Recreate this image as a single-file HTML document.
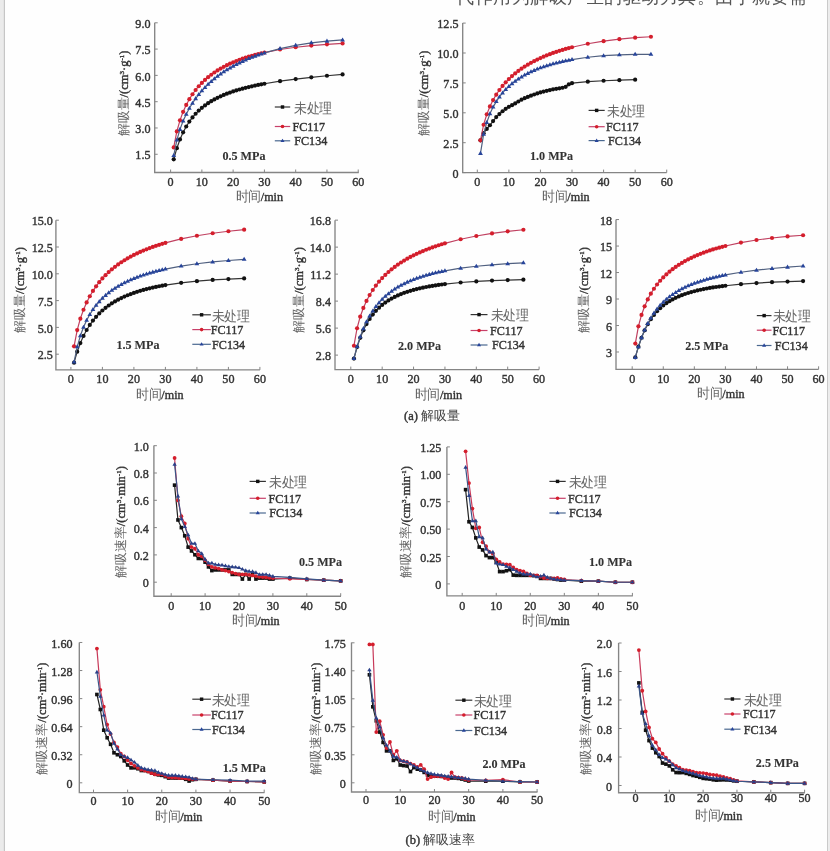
<!DOCTYPE html><html><head><meta charset="utf-8"><style>html,body{margin:0;padding:0;background:#fff;width:830px;height:851px;overflow:hidden}</style></head><body><svg width="830" height="851" viewBox="0 0 830 851" style="display:block;filter:blur(0.45px)">
<rect width="830" height="851" fill="#fefefe"/>
<rect x="0" y="0" width="3.7" height="851" fill="#ebebeb"/>
<rect x="3.7" y="0" width="1.3" height="851" fill="#c6c6c6"/>
<rect x="827.2" y="0" width="1" height="851" fill="#bdbdbd"/>
<rect x="828.2" y="0" width="1.8" height="851" fill="#ececec"/>
<style>text{stroke:#333333;stroke-width:0.4px} .c{fill:#666;stroke:none;font-size:13px}</style><g font-family='"Liberation Serif", serif' font-size="12.5" fill="#333333">
<text x="456" y="2.5" font-size="18" letter-spacing="0.5" fill="#555" style="stroke:none">代作用为解吸产生的驱动力其。由于就要需</text>
<path d="M154.7,22.8V172.5H358.8" fill="none" stroke="#858585" stroke-width="1.35"/>
<path d="M154.7,154.28h3" stroke="#858585" stroke-width="1"/>
<text transform="translate(150.50,154.28) scale(0.97,1.05)" y="4.9" text-anchor="end">1.5</text>
<path d="M154.7,127.98h3" stroke="#858585" stroke-width="1"/>
<text transform="translate(150.50,127.98) scale(0.97,1.05)" y="4.9" text-anchor="end">3.0</text>
<path d="M154.7,101.69h3" stroke="#858585" stroke-width="1"/>
<text transform="translate(150.50,101.69) scale(0.97,1.05)" y="4.9" text-anchor="end">4.5</text>
<path d="M154.7,75.39h3" stroke="#858585" stroke-width="1"/>
<text transform="translate(150.50,75.39) scale(0.97,1.05)" y="4.9" text-anchor="end">6.0</text>
<path d="M154.7,49.09h3" stroke="#858585" stroke-width="1"/>
<text transform="translate(150.50,49.09) scale(0.97,1.05)" y="4.9" text-anchor="end">7.5</text>
<path d="M154.7,22.80h3" stroke="#858585" stroke-width="1"/>
<text transform="translate(150.50,22.80) scale(0.97,1.05)" y="4.9" text-anchor="end">9.0</text>
<path d="M170.60,172.5v-3" stroke="#858585" stroke-width="1"/>
<text transform="translate(170.60,181.60) scale(0.97,1.05)" y="4.1" text-anchor="middle">0</text>
<path d="M201.87,172.5v-3" stroke="#858585" stroke-width="1"/>
<text transform="translate(201.87,181.60) scale(0.97,1.05)" y="4.1" text-anchor="middle">10</text>
<path d="M233.14,172.5v-3" stroke="#858585" stroke-width="1"/>
<text transform="translate(233.14,181.60) scale(0.97,1.05)" y="4.1" text-anchor="middle">20</text>
<path d="M264.41,172.5v-3" stroke="#858585" stroke-width="1"/>
<text transform="translate(264.41,181.60) scale(0.97,1.05)" y="4.1" text-anchor="middle">30</text>
<path d="M295.68,172.5v-3" stroke="#858585" stroke-width="1"/>
<text transform="translate(295.68,181.60) scale(0.97,1.05)" y="4.1" text-anchor="middle">40</text>
<path d="M326.95,172.5v-3" stroke="#858585" stroke-width="1"/>
<text transform="translate(326.95,181.60) scale(0.97,1.05)" y="4.1" text-anchor="middle">50</text>
<path d="M358.22,172.5v-3" stroke="#858585" stroke-width="1"/>
<text transform="translate(358.22,181.60) scale(0.97,1.05)" y="4.1" text-anchor="middle">60</text>
<text transform="translate(123.0,93.5) rotate(-90)" text-anchor="middle" y="4.5"><tspan class="c">解吸量</tspan>/(cm<tspan font-size="7" dy="-4">3</tspan><tspan dy="4">·g</tspan><tspan font-size="7" dy="-4">-1</tspan><tspan dy="4">)</tspan></text>
<text transform="translate(259.40,196.60) scale(0.97,1.05)" y="4.3" text-anchor="middle"><tspan class="c">时间</tspan>/min</text>
<text transform="translate(222.40,155.60) scale(0.97,1.05)" y="4.1" text-anchor="start" font-weight="bold" style="stroke-width:0.1px">0.5 MPa</text>
<path d="M173.73,159.29L176.85,148.21L179.98,139.45L183.11,132.36L186.23,126.50L189.36,121.58L192.49,117.39L195.62,113.77L198.74,110.62L201.87,107.85L205.00,105.40L208.12,103.20L211.25,101.22L214.38,99.44L217.50,97.81L220.63,96.33L223.76,94.97L226.89,93.71L230.01,92.55L233.14,91.47L236.27,90.46L239.39,89.52L242.52,88.65L245.65,87.82L248.77,87.04L251.90,86.31L255.03,85.62L258.16,84.96L261.28,84.33L264.41,83.74L280.04,81.15L295.68,79.04L311.31,77.28L326.95,75.76L342.58,74.43" fill="none" stroke="#333" stroke-width="1.2" stroke-linejoin="round"/>
<circle cx="173.73" cy="159.29" r="2.10" fill="#111111"/>
<circle cx="176.85" cy="148.21" r="2.10" fill="#111111"/>
<circle cx="179.98" cy="139.45" r="2.10" fill="#111111"/>
<circle cx="183.11" cy="132.36" r="2.10" fill="#111111"/>
<circle cx="186.23" cy="126.50" r="2.10" fill="#111111"/>
<circle cx="189.36" cy="121.58" r="2.10" fill="#111111"/>
<circle cx="192.49" cy="117.39" r="2.10" fill="#111111"/>
<circle cx="195.62" cy="113.77" r="2.10" fill="#111111"/>
<circle cx="198.74" cy="110.62" r="2.10" fill="#111111"/>
<circle cx="201.87" cy="107.85" r="2.10" fill="#111111"/>
<circle cx="205.00" cy="105.40" r="2.10" fill="#111111"/>
<circle cx="208.12" cy="103.20" r="2.10" fill="#111111"/>
<circle cx="211.25" cy="101.22" r="2.10" fill="#111111"/>
<circle cx="214.38" cy="99.44" r="2.10" fill="#111111"/>
<circle cx="217.50" cy="97.81" r="2.10" fill="#111111"/>
<circle cx="220.63" cy="96.33" r="2.10" fill="#111111"/>
<circle cx="223.76" cy="94.97" r="2.10" fill="#111111"/>
<circle cx="226.89" cy="93.71" r="2.10" fill="#111111"/>
<circle cx="230.01" cy="92.55" r="2.10" fill="#111111"/>
<circle cx="233.14" cy="91.47" r="2.10" fill="#111111"/>
<circle cx="236.27" cy="90.46" r="2.10" fill="#111111"/>
<circle cx="239.39" cy="89.52" r="2.10" fill="#111111"/>
<circle cx="242.52" cy="88.65" r="2.10" fill="#111111"/>
<circle cx="245.65" cy="87.82" r="2.10" fill="#111111"/>
<circle cx="248.77" cy="87.04" r="2.10" fill="#111111"/>
<circle cx="251.90" cy="86.31" r="2.10" fill="#111111"/>
<circle cx="255.03" cy="85.62" r="2.10" fill="#111111"/>
<circle cx="258.16" cy="84.96" r="2.10" fill="#111111"/>
<circle cx="261.28" cy="84.33" r="2.10" fill="#111111"/>
<circle cx="264.41" cy="83.74" r="2.10" fill="#111111"/>
<circle cx="280.04" cy="81.15" r="2.10" fill="#111111"/>
<circle cx="295.68" cy="79.04" r="2.10" fill="#111111"/>
<circle cx="311.31" cy="77.28" r="2.10" fill="#111111"/>
<circle cx="326.95" cy="75.76" r="2.10" fill="#111111"/>
<circle cx="342.58" cy="74.43" r="2.10" fill="#111111"/>
<path d="M173.73,147.41L176.85,131.42L179.98,120.34L183.11,111.83L186.23,104.94L189.36,99.19L192.49,94.27L195.62,89.99L198.74,86.23L201.87,82.89L205.00,79.90L208.12,77.19L211.25,74.74L214.38,72.50L217.50,70.45L220.63,68.56L223.76,66.82L226.89,65.21L230.01,63.72L233.14,62.33L236.27,61.04L239.39,59.83L242.52,58.70L245.65,57.65L248.77,56.66L251.90,55.73L255.03,54.86L258.16,54.04L261.28,53.27L264.41,52.55L280.04,49.50L295.68,47.23L311.31,45.55L326.95,44.32L342.58,43.45" fill="none" stroke="#c04060" stroke-width="1.2" stroke-linejoin="round"/>
<circle cx="173.73" cy="147.41" r="2.10" fill="#d41e2c"/>
<circle cx="176.85" cy="131.42" r="2.10" fill="#d41e2c"/>
<circle cx="179.98" cy="120.34" r="2.10" fill="#d41e2c"/>
<circle cx="183.11" cy="111.83" r="2.10" fill="#d41e2c"/>
<circle cx="186.23" cy="104.94" r="2.10" fill="#d41e2c"/>
<circle cx="189.36" cy="99.19" r="2.10" fill="#d41e2c"/>
<circle cx="192.49" cy="94.27" r="2.10" fill="#d41e2c"/>
<circle cx="195.62" cy="89.99" r="2.10" fill="#d41e2c"/>
<circle cx="198.74" cy="86.23" r="2.10" fill="#d41e2c"/>
<circle cx="201.87" cy="82.89" r="2.10" fill="#d41e2c"/>
<circle cx="205.00" cy="79.90" r="2.10" fill="#d41e2c"/>
<circle cx="208.12" cy="77.19" r="2.10" fill="#d41e2c"/>
<circle cx="211.25" cy="74.74" r="2.10" fill="#d41e2c"/>
<circle cx="214.38" cy="72.50" r="2.10" fill="#d41e2c"/>
<circle cx="217.50" cy="70.45" r="2.10" fill="#d41e2c"/>
<circle cx="220.63" cy="68.56" r="2.10" fill="#d41e2c"/>
<circle cx="223.76" cy="66.82" r="2.10" fill="#d41e2c"/>
<circle cx="226.89" cy="65.21" r="2.10" fill="#d41e2c"/>
<circle cx="230.01" cy="63.72" r="2.10" fill="#d41e2c"/>
<circle cx="233.14" cy="62.33" r="2.10" fill="#d41e2c"/>
<circle cx="236.27" cy="61.04" r="2.10" fill="#d41e2c"/>
<circle cx="239.39" cy="59.83" r="2.10" fill="#d41e2c"/>
<circle cx="242.52" cy="58.70" r="2.10" fill="#d41e2c"/>
<circle cx="245.65" cy="57.65" r="2.10" fill="#d41e2c"/>
<circle cx="248.77" cy="56.66" r="2.10" fill="#d41e2c"/>
<circle cx="251.90" cy="55.73" r="2.10" fill="#d41e2c"/>
<circle cx="255.03" cy="54.86" r="2.10" fill="#d41e2c"/>
<circle cx="258.16" cy="54.04" r="2.10" fill="#d41e2c"/>
<circle cx="261.28" cy="53.27" r="2.10" fill="#d41e2c"/>
<circle cx="264.41" cy="52.55" r="2.10" fill="#d41e2c"/>
<circle cx="280.04" cy="49.50" r="2.10" fill="#d41e2c"/>
<circle cx="295.68" cy="47.23" r="2.10" fill="#d41e2c"/>
<circle cx="311.31" cy="45.55" r="2.10" fill="#d41e2c"/>
<circle cx="326.95" cy="44.32" r="2.10" fill="#d41e2c"/>
<circle cx="342.58" cy="43.45" r="2.10" fill="#d41e2c"/>
<path d="M173.73,155.57L176.85,140.05L179.98,129.37L183.11,121.05L186.23,114.18L189.36,108.31L192.49,103.18L195.62,98.63L198.74,94.54L201.87,90.83L205.00,87.45L208.12,84.34L211.25,81.47L214.38,78.80L217.50,76.33L220.63,74.02L223.76,71.86L226.89,69.83L230.01,67.93L233.14,66.14L236.27,64.45L239.39,62.87L242.52,61.37L245.65,59.95L248.77,58.61L251.90,57.34L255.03,56.14L258.16,55.01L261.28,53.93L264.41,52.91L280.04,48.58L295.68,45.29L311.31,42.86L326.95,41.12L342.58,39.97" fill="none" stroke="#506080" stroke-width="1.2" stroke-linejoin="round"/>
<path d="M173.73,153.05L176.12,157.08L171.33,157.08Z" fill="#27449a"/>
<path d="M176.85,137.53L179.25,141.57L174.46,141.57Z" fill="#27449a"/>
<path d="M179.98,126.85L182.38,130.88L177.59,130.88Z" fill="#27449a"/>
<path d="M183.11,118.53L185.50,122.56L180.71,122.56Z" fill="#27449a"/>
<path d="M186.23,111.66L188.63,115.69L183.84,115.69Z" fill="#27449a"/>
<path d="M189.36,105.79L191.76,109.82L186.97,109.82Z" fill="#27449a"/>
<path d="M192.49,100.66L194.88,104.69L190.09,104.69Z" fill="#27449a"/>
<path d="M195.62,96.11L198.01,100.14L193.22,100.14Z" fill="#27449a"/>
<path d="M198.74,92.02L201.14,96.05L196.35,96.05Z" fill="#27449a"/>
<path d="M201.87,88.31L204.26,92.35L199.48,92.35Z" fill="#27449a"/>
<path d="M205.00,84.93L207.39,88.96L202.60,88.96Z" fill="#27449a"/>
<path d="M208.12,81.82L210.52,85.85L205.73,85.85Z" fill="#27449a"/>
<path d="M211.25,78.95L213.64,82.98L208.86,82.98Z" fill="#27449a"/>
<path d="M214.38,76.28L216.77,80.32L211.98,80.32Z" fill="#27449a"/>
<path d="M217.50,73.81L219.90,77.84L215.11,77.84Z" fill="#27449a"/>
<path d="M220.63,71.50L223.03,75.53L218.24,75.53Z" fill="#27449a"/>
<path d="M223.76,69.34L226.15,73.37L221.36,73.37Z" fill="#27449a"/>
<path d="M226.89,67.31L229.28,71.34L224.49,71.34Z" fill="#27449a"/>
<path d="M230.01,65.41L232.41,69.44L227.62,69.44Z" fill="#27449a"/>
<path d="M233.14,63.62L235.53,67.65L230.75,67.65Z" fill="#27449a"/>
<path d="M236.27,61.93L238.66,65.97L233.87,65.97Z" fill="#27449a"/>
<path d="M239.39,60.35L241.79,64.38L237.00,64.38Z" fill="#27449a"/>
<path d="M242.52,58.85L244.91,62.88L240.13,62.88Z" fill="#27449a"/>
<path d="M245.65,57.43L248.04,61.46L243.25,61.46Z" fill="#27449a"/>
<path d="M248.77,56.09L251.17,60.12L246.38,60.12Z" fill="#27449a"/>
<path d="M251.90,54.82L254.30,58.85L249.51,58.85Z" fill="#27449a"/>
<path d="M255.03,53.62L257.42,57.66L252.63,57.66Z" fill="#27449a"/>
<path d="M258.16,52.49L260.55,56.52L255.76,56.52Z" fill="#27449a"/>
<path d="M261.28,51.41L263.68,55.44L258.89,55.44Z" fill="#27449a"/>
<path d="M264.41,50.39L266.80,54.43L262.02,54.43Z" fill="#27449a"/>
<path d="M280.04,46.06L282.44,50.09L277.65,50.09Z" fill="#27449a"/>
<path d="M295.68,42.77L298.07,46.80L293.29,46.80Z" fill="#27449a"/>
<path d="M311.31,40.34L313.71,44.37L308.92,44.37Z" fill="#27449a"/>
<path d="M326.95,38.60L329.34,42.63L324.56,42.63Z" fill="#27449a"/>
<path d="M342.58,37.45L344.98,41.48L340.19,41.48Z" fill="#27449a"/>
<path d="M274.8,107.0H290.2" stroke="#333" stroke-width="1.2"/>
<rect x="280.79" y="105.29" width="3.42" height="3.42" fill="#111111"/>
<text transform="translate(294.30,107.00) scale(0.97,1.05)" y="5.6" text-anchor="start"><tspan class="c">未处理</tspan></text>
<path d="M274.8,126.5H290.2" stroke="#c8406a" stroke-width="1.2"/>
<circle cx="282.50" cy="126.50" r="1.80" fill="#d41e2c"/>
<text transform="translate(292.50,126.50) scale(0.97,1.05)" y="4.1" text-anchor="start">FC117</text>
<path d="M274.8,140.8H290.2" stroke="#4a6890" stroke-width="1.2"/>
<path d="M282.50,138.64L284.55,142.10L280.45,142.10Z" fill="#27449a"/>
<text transform="translate(294.30,140.80) scale(0.97,1.05)" y="4.1" text-anchor="start">FC134</text>
<path d="M462.7,22.9V172.6H666.7" fill="none" stroke="#858585" stroke-width="1.35"/>
<path d="M462.7,172.60h3" stroke="#858585" stroke-width="1"/>
<text transform="translate(458.50,172.60) scale(0.97,1.05)" y="4.9" text-anchor="end">0</text>
<path d="M462.7,142.70h3" stroke="#858585" stroke-width="1"/>
<text transform="translate(458.50,142.70) scale(0.97,1.05)" y="4.9" text-anchor="end">2.5</text>
<path d="M462.7,112.80h3" stroke="#858585" stroke-width="1"/>
<text transform="translate(458.50,112.80) scale(0.97,1.05)" y="4.9" text-anchor="end">5.0</text>
<path d="M462.7,82.90h3" stroke="#858585" stroke-width="1"/>
<text transform="translate(458.50,82.90) scale(0.97,1.05)" y="4.9" text-anchor="end">7.5</text>
<path d="M462.7,53.00h3" stroke="#858585" stroke-width="1"/>
<text transform="translate(458.50,53.00) scale(0.97,1.05)" y="4.9" text-anchor="end">10.0</text>
<path d="M462.7,23.10h3" stroke="#858585" stroke-width="1"/>
<text transform="translate(458.50,23.10) scale(0.97,1.05)" y="4.9" text-anchor="end">12.5</text>
<path d="M477.30,172.6v-3" stroke="#858585" stroke-width="1"/>
<text transform="translate(477.30,181.60) scale(0.97,1.05)" y="4.1" text-anchor="middle">0</text>
<path d="M508.87,172.6v-3" stroke="#858585" stroke-width="1"/>
<text transform="translate(508.87,181.60) scale(0.97,1.05)" y="4.1" text-anchor="middle">10</text>
<path d="M540.44,172.6v-3" stroke="#858585" stroke-width="1"/>
<text transform="translate(540.44,181.60) scale(0.97,1.05)" y="4.1" text-anchor="middle">20</text>
<path d="M572.01,172.6v-3" stroke="#858585" stroke-width="1"/>
<text transform="translate(572.01,181.60) scale(0.97,1.05)" y="4.1" text-anchor="middle">30</text>
<path d="M603.58,172.6v-3" stroke="#858585" stroke-width="1"/>
<text transform="translate(603.58,181.60) scale(0.97,1.05)" y="4.1" text-anchor="middle">40</text>
<path d="M635.15,172.6v-3" stroke="#858585" stroke-width="1"/>
<text transform="translate(635.15,181.60) scale(0.97,1.05)" y="4.1" text-anchor="middle">50</text>
<path d="M666.72,172.6v-3" stroke="#858585" stroke-width="1"/>
<text transform="translate(666.72,181.60) scale(0.97,1.05)" y="4.1" text-anchor="middle">60</text>
<text transform="translate(423.6,93.4) rotate(-90)" text-anchor="middle" y="4.5"><tspan class="c">解吸量</tspan>/(cm<tspan font-size="7" dy="-4">3</tspan><tspan dy="4">·g</tspan><tspan font-size="7" dy="-4">-1</tspan><tspan dy="4">)</tspan></text>
<text transform="translate(566.00,196.30) scale(0.97,1.05)" y="4.3" text-anchor="middle"><tspan class="c">时间</tspan>/min</text>
<text transform="translate(530.00,155.40) scale(0.97,1.05)" y="4.1" text-anchor="start" font-weight="bold" style="stroke-width:0.1px">1.0 MPa</text>
<path d="M480.46,140.31L483.61,133.13L486.77,128.95L489.93,125.24L493.09,121.05L496.24,117.11L499.40,114.12L502.56,111.25L505.71,108.85L508.87,106.82L512.03,105.13L515.18,103.47L518.34,101.51L521.50,99.64L524.65,98.18L527.81,96.89L530.97,95.67L534.13,94.52L537.28,93.44L540.44,92.47L543.60,91.60L546.75,90.80L549.91,90.06L553.07,89.36L556.23,88.79L559.38,88.33L562.54,87.75L565.70,86.85L568.85,84.34L572.01,83.14L587.80,81.70L603.58,80.75L619.37,80.15L635.15,79.67" fill="none" stroke="#333" stroke-width="1.2" stroke-linejoin="round"/>
<circle cx="480.46" cy="140.31" r="2.10" fill="#111111"/>
<circle cx="483.61" cy="133.13" r="2.10" fill="#111111"/>
<circle cx="486.77" cy="128.95" r="2.10" fill="#111111"/>
<circle cx="489.93" cy="125.24" r="2.10" fill="#111111"/>
<circle cx="493.09" cy="121.05" r="2.10" fill="#111111"/>
<circle cx="496.24" cy="117.11" r="2.10" fill="#111111"/>
<circle cx="499.40" cy="114.12" r="2.10" fill="#111111"/>
<circle cx="502.56" cy="111.25" r="2.10" fill="#111111"/>
<circle cx="505.71" cy="108.85" r="2.10" fill="#111111"/>
<circle cx="508.87" cy="106.82" r="2.10" fill="#111111"/>
<circle cx="512.03" cy="105.13" r="2.10" fill="#111111"/>
<circle cx="515.18" cy="103.47" r="2.10" fill="#111111"/>
<circle cx="518.34" cy="101.51" r="2.10" fill="#111111"/>
<circle cx="521.50" cy="99.64" r="2.10" fill="#111111"/>
<circle cx="524.65" cy="98.18" r="2.10" fill="#111111"/>
<circle cx="527.81" cy="96.89" r="2.10" fill="#111111"/>
<circle cx="530.97" cy="95.67" r="2.10" fill="#111111"/>
<circle cx="534.13" cy="94.52" r="2.10" fill="#111111"/>
<circle cx="537.28" cy="93.44" r="2.10" fill="#111111"/>
<circle cx="540.44" cy="92.47" r="2.10" fill="#111111"/>
<circle cx="543.60" cy="91.60" r="2.10" fill="#111111"/>
<circle cx="546.75" cy="90.80" r="2.10" fill="#111111"/>
<circle cx="549.91" cy="90.06" r="2.10" fill="#111111"/>
<circle cx="553.07" cy="89.36" r="2.10" fill="#111111"/>
<circle cx="556.23" cy="88.79" r="2.10" fill="#111111"/>
<circle cx="559.38" cy="88.33" r="2.10" fill="#111111"/>
<circle cx="562.54" cy="87.75" r="2.10" fill="#111111"/>
<circle cx="565.70" cy="86.85" r="2.10" fill="#111111"/>
<circle cx="568.85" cy="84.34" r="2.10" fill="#111111"/>
<circle cx="572.01" cy="83.14" r="2.10" fill="#111111"/>
<circle cx="587.80" cy="81.70" r="2.10" fill="#111111"/>
<circle cx="603.58" cy="80.75" r="2.10" fill="#111111"/>
<circle cx="619.37" cy="80.15" r="2.10" fill="#111111"/>
<circle cx="635.15" cy="79.67" r="2.10" fill="#111111"/>
<path d="M480.46,140.35L483.61,124.75L486.77,114.36L489.93,106.45L493.09,100.05L496.24,94.66L499.40,90.01L502.56,85.94L505.71,82.32L508.87,79.06L512.03,76.11L515.18,73.42L518.34,70.96L521.50,68.68L524.65,66.58L527.81,64.63L530.97,62.82L534.13,61.13L537.28,59.55L540.44,58.06L543.60,56.67L546.75,55.36L549.91,54.13L553.07,52.97L556.23,51.88L559.38,50.85L562.54,49.88L565.70,48.96L568.85,48.09L572.01,47.26L587.80,43.77L603.58,41.13L619.37,39.15L635.15,37.72L650.93,36.73" fill="none" stroke="#c04060" stroke-width="1.2" stroke-linejoin="round"/>
<circle cx="480.46" cy="140.35" r="2.10" fill="#d41e2c"/>
<circle cx="483.61" cy="124.75" r="2.10" fill="#d41e2c"/>
<circle cx="486.77" cy="114.36" r="2.10" fill="#d41e2c"/>
<circle cx="489.93" cy="106.45" r="2.10" fill="#d41e2c"/>
<circle cx="493.09" cy="100.05" r="2.10" fill="#d41e2c"/>
<circle cx="496.24" cy="94.66" r="2.10" fill="#d41e2c"/>
<circle cx="499.40" cy="90.01" r="2.10" fill="#d41e2c"/>
<circle cx="502.56" cy="85.94" r="2.10" fill="#d41e2c"/>
<circle cx="505.71" cy="82.32" r="2.10" fill="#d41e2c"/>
<circle cx="508.87" cy="79.06" r="2.10" fill="#d41e2c"/>
<circle cx="512.03" cy="76.11" r="2.10" fill="#d41e2c"/>
<circle cx="515.18" cy="73.42" r="2.10" fill="#d41e2c"/>
<circle cx="518.34" cy="70.96" r="2.10" fill="#d41e2c"/>
<circle cx="521.50" cy="68.68" r="2.10" fill="#d41e2c"/>
<circle cx="524.65" cy="66.58" r="2.10" fill="#d41e2c"/>
<circle cx="527.81" cy="64.63" r="2.10" fill="#d41e2c"/>
<circle cx="530.97" cy="62.82" r="2.10" fill="#d41e2c"/>
<circle cx="534.13" cy="61.13" r="2.10" fill="#d41e2c"/>
<circle cx="537.28" cy="59.55" r="2.10" fill="#d41e2c"/>
<circle cx="540.44" cy="58.06" r="2.10" fill="#d41e2c"/>
<circle cx="543.60" cy="56.67" r="2.10" fill="#d41e2c"/>
<circle cx="546.75" cy="55.36" r="2.10" fill="#d41e2c"/>
<circle cx="549.91" cy="54.13" r="2.10" fill="#d41e2c"/>
<circle cx="553.07" cy="52.97" r="2.10" fill="#d41e2c"/>
<circle cx="556.23" cy="51.88" r="2.10" fill="#d41e2c"/>
<circle cx="559.38" cy="50.85" r="2.10" fill="#d41e2c"/>
<circle cx="562.54" cy="49.88" r="2.10" fill="#d41e2c"/>
<circle cx="565.70" cy="48.96" r="2.10" fill="#d41e2c"/>
<circle cx="568.85" cy="48.09" r="2.10" fill="#d41e2c"/>
<circle cx="572.01" cy="47.26" r="2.10" fill="#d41e2c"/>
<circle cx="587.80" cy="43.77" r="2.10" fill="#d41e2c"/>
<circle cx="603.58" cy="41.13" r="2.10" fill="#d41e2c"/>
<circle cx="619.37" cy="39.15" r="2.10" fill="#d41e2c"/>
<circle cx="635.15" cy="37.72" r="2.10" fill="#d41e2c"/>
<circle cx="650.93" cy="36.73" r="2.10" fill="#d41e2c"/>
<path d="M480.46,153.39L483.61,134.29L486.77,122.45L489.93,113.84L493.09,107.10L496.24,101.59L499.40,96.94L502.56,92.95L505.71,89.46L508.87,86.38L512.03,83.64L515.18,81.17L518.34,78.94L521.50,76.92L524.65,75.07L527.81,73.38L530.97,71.82L534.13,70.39L537.28,69.07L540.44,67.85L543.60,66.72L546.75,65.67L549.91,64.70L553.07,63.80L556.23,62.96L559.38,62.18L562.54,61.45L565.70,60.78L568.85,60.15L572.01,59.57L587.80,57.25L603.58,55.72L619.37,54.80L635.15,54.36L650.93,54.32" fill="none" stroke="#506080" stroke-width="1.2" stroke-linejoin="round"/>
<path d="M480.46,150.87L482.85,154.90L478.06,154.90Z" fill="#27449a"/>
<path d="M483.61,131.77L486.01,135.80L481.22,135.80Z" fill="#27449a"/>
<path d="M486.77,119.93L489.17,123.96L484.38,123.96Z" fill="#27449a"/>
<path d="M489.93,111.32L492.32,115.36L487.53,115.36Z" fill="#27449a"/>
<path d="M493.09,104.58L495.48,108.62L490.69,108.62Z" fill="#27449a"/>
<path d="M496.24,99.07L498.64,103.10L493.85,103.10Z" fill="#27449a"/>
<path d="M499.40,94.42L501.79,98.46L497.00,98.46Z" fill="#27449a"/>
<path d="M502.56,90.43L504.95,94.46L500.16,94.46Z" fill="#27449a"/>
<path d="M505.71,86.94L508.11,90.98L503.32,90.98Z" fill="#27449a"/>
<path d="M508.87,83.86L511.26,87.90L506.48,87.90Z" fill="#27449a"/>
<path d="M512.03,81.12L514.42,85.15L509.63,85.15Z" fill="#27449a"/>
<path d="M515.18,78.65L517.58,82.68L512.79,82.68Z" fill="#27449a"/>
<path d="M518.34,76.42L520.74,80.45L515.95,80.45Z" fill="#27449a"/>
<path d="M521.50,74.40L523.89,78.43L519.10,78.43Z" fill="#27449a"/>
<path d="M524.65,72.55L527.05,76.58L522.26,76.58Z" fill="#27449a"/>
<path d="M527.81,70.86L530.21,74.89L525.42,74.89Z" fill="#27449a"/>
<path d="M530.97,69.30L533.36,73.33L528.58,73.33Z" fill="#27449a"/>
<path d="M534.13,67.87L536.52,71.90L531.73,71.90Z" fill="#27449a"/>
<path d="M537.28,66.55L539.68,70.58L534.89,70.58Z" fill="#27449a"/>
<path d="M540.44,65.33L542.83,69.36L538.05,69.36Z" fill="#27449a"/>
<path d="M543.60,64.20L545.99,68.23L541.20,68.23Z" fill="#27449a"/>
<path d="M546.75,63.15L549.15,67.18L544.36,67.18Z" fill="#27449a"/>
<path d="M549.91,62.18L552.31,66.21L547.52,66.21Z" fill="#27449a"/>
<path d="M553.07,61.28L555.46,65.31L550.67,65.31Z" fill="#27449a"/>
<path d="M556.23,60.44L558.62,64.47L553.83,64.47Z" fill="#27449a"/>
<path d="M559.38,59.66L561.78,63.69L556.99,63.69Z" fill="#27449a"/>
<path d="M562.54,58.93L564.93,62.96L560.14,62.96Z" fill="#27449a"/>
<path d="M565.70,58.26L568.09,62.29L563.30,62.29Z" fill="#27449a"/>
<path d="M568.85,57.63L571.25,61.67L566.46,61.67Z" fill="#27449a"/>
<path d="M572.01,57.05L574.40,61.09L569.62,61.09Z" fill="#27449a"/>
<path d="M587.80,54.73L590.19,58.76L585.40,58.76Z" fill="#27449a"/>
<path d="M603.58,53.20L605.97,57.23L601.19,57.23Z" fill="#27449a"/>
<path d="M619.37,52.28L621.76,56.31L616.97,56.31Z" fill="#27449a"/>
<path d="M635.15,51.84L637.54,55.87L632.76,55.87Z" fill="#27449a"/>
<path d="M650.93,51.80L653.33,55.83L648.54,55.83Z" fill="#27449a"/>
<path d="M588.6,110.4H604.7" stroke="#333" stroke-width="1.2"/>
<rect x="594.94" y="108.69" width="3.42" height="3.42" fill="#111111"/>
<text transform="translate(607.30,110.40) scale(0.97,1.05)" y="5.6" text-anchor="start"><tspan class="c">未处理</tspan></text>
<path d="M588.6,126.7H604.7" stroke="#c8406a" stroke-width="1.2"/>
<circle cx="596.65" cy="126.70" r="1.80" fill="#d41e2c"/>
<text transform="translate(606.00,126.70) scale(0.97,1.05)" y="4.1" text-anchor="start">FC117</text>
<path d="M588.6,140.6H604.7" stroke="#4a6890" stroke-width="1.2"/>
<path d="M596.65,138.44L598.70,141.90L594.60,141.90Z" fill="#27449a"/>
<text transform="translate(608.00,140.60) scale(0.97,1.05)" y="4.1" text-anchor="start">FC134</text>
<path d="M55.9,220.3V369.9H259.9" fill="none" stroke="#858585" stroke-width="1.35"/>
<path d="M55.9,354.20h3" stroke="#858585" stroke-width="1"/>
<text transform="translate(52.90,354.20) scale(0.97,1.05)" y="4.9" text-anchor="end">2.5</text>
<path d="M55.9,327.40h3" stroke="#858585" stroke-width="1"/>
<text transform="translate(52.90,327.40) scale(0.97,1.05)" y="4.9" text-anchor="end">5.0</text>
<path d="M55.9,300.60h3" stroke="#858585" stroke-width="1"/>
<text transform="translate(52.90,300.60) scale(0.97,1.05)" y="4.9" text-anchor="end">7.5</text>
<path d="M55.9,273.80h3" stroke="#858585" stroke-width="1"/>
<text transform="translate(52.90,273.80) scale(0.97,1.05)" y="4.9" text-anchor="end">10.0</text>
<path d="M55.9,247.00h3" stroke="#858585" stroke-width="1"/>
<text transform="translate(52.90,247.00) scale(0.97,1.05)" y="4.9" text-anchor="end">12.5</text>
<path d="M55.9,220.20h3" stroke="#858585" stroke-width="1"/>
<text transform="translate(52.90,220.20) scale(0.97,1.05)" y="4.9" text-anchor="end">15.0</text>
<path d="M70.90,369.9v-3" stroke="#858585" stroke-width="1"/>
<text transform="translate(70.90,378.70) scale(0.97,1.05)" y="4.1" text-anchor="middle">0</text>
<path d="M102.40,369.9v-3" stroke="#858585" stroke-width="1"/>
<text transform="translate(102.40,378.70) scale(0.97,1.05)" y="4.1" text-anchor="middle">10</text>
<path d="M133.90,369.9v-3" stroke="#858585" stroke-width="1"/>
<text transform="translate(133.90,378.70) scale(0.97,1.05)" y="4.1" text-anchor="middle">20</text>
<path d="M165.40,369.9v-3" stroke="#858585" stroke-width="1"/>
<text transform="translate(165.40,378.70) scale(0.97,1.05)" y="4.1" text-anchor="middle">30</text>
<path d="M196.90,369.9v-3" stroke="#858585" stroke-width="1"/>
<text transform="translate(196.90,378.70) scale(0.97,1.05)" y="4.1" text-anchor="middle">40</text>
<path d="M228.40,369.9v-3" stroke="#858585" stroke-width="1"/>
<text transform="translate(228.40,378.70) scale(0.97,1.05)" y="4.1" text-anchor="middle">50</text>
<path d="M259.90,369.9v-3" stroke="#858585" stroke-width="1"/>
<text transform="translate(259.90,378.70) scale(0.97,1.05)" y="4.1" text-anchor="middle">60</text>
<text transform="translate(19.2,290.0) rotate(-90)" text-anchor="middle" y="4.5"><tspan class="c">解吸量</tspan>/(cm<tspan font-size="7" dy="-4">3</tspan><tspan dy="4">·g</tspan><tspan font-size="7" dy="-4">-1</tspan><tspan dy="4">)</tspan></text>
<text transform="translate(160.00,394.00) scale(0.97,1.05)" y="4.3" text-anchor="middle"><tspan class="c">时间</tspan>/min</text>
<text transform="translate(116.40,345.00) scale(0.97,1.05)" y="4.1" text-anchor="start" font-weight="bold" style="stroke-width:0.1px">1.5 MPa</text>
<path d="M74.05,362.64L77.20,351.70L80.35,343.04L83.50,335.94L86.65,330.01L89.80,324.95L92.95,320.60L96.10,316.80L99.25,313.46L102.40,310.50L105.55,307.86L108.70,305.50L111.85,303.36L115.00,301.43L118.15,299.68L121.30,298.08L124.45,296.61L127.60,295.27L130.75,294.03L133.90,292.89L137.05,291.83L140.20,290.85L143.35,289.95L146.50,289.11L149.65,288.32L152.80,287.59L155.95,286.91L159.10,286.27L162.25,285.68L165.40,285.12L181.15,282.82L196.90,281.15L212.65,279.93L228.40,279.05L244.15,278.44" fill="none" stroke="#333" stroke-width="1.2" stroke-linejoin="round"/>
<circle cx="74.05" cy="362.64" r="2.10" fill="#111111"/>
<circle cx="77.20" cy="351.70" r="2.10" fill="#111111"/>
<circle cx="80.35" cy="343.04" r="2.10" fill="#111111"/>
<circle cx="83.50" cy="335.94" r="2.10" fill="#111111"/>
<circle cx="86.65" cy="330.01" r="2.10" fill="#111111"/>
<circle cx="89.80" cy="324.95" r="2.10" fill="#111111"/>
<circle cx="92.95" cy="320.60" r="2.10" fill="#111111"/>
<circle cx="96.10" cy="316.80" r="2.10" fill="#111111"/>
<circle cx="99.25" cy="313.46" r="2.10" fill="#111111"/>
<circle cx="102.40" cy="310.50" r="2.10" fill="#111111"/>
<circle cx="105.55" cy="307.86" r="2.10" fill="#111111"/>
<circle cx="108.70" cy="305.50" r="2.10" fill="#111111"/>
<circle cx="111.85" cy="303.36" r="2.10" fill="#111111"/>
<circle cx="115.00" cy="301.43" r="2.10" fill="#111111"/>
<circle cx="118.15" cy="299.68" r="2.10" fill="#111111"/>
<circle cx="121.30" cy="298.08" r="2.10" fill="#111111"/>
<circle cx="124.45" cy="296.61" r="2.10" fill="#111111"/>
<circle cx="127.60" cy="295.27" r="2.10" fill="#111111"/>
<circle cx="130.75" cy="294.03" r="2.10" fill="#111111"/>
<circle cx="133.90" cy="292.89" r="2.10" fill="#111111"/>
<circle cx="137.05" cy="291.83" r="2.10" fill="#111111"/>
<circle cx="140.20" cy="290.85" r="2.10" fill="#111111"/>
<circle cx="143.35" cy="289.95" r="2.10" fill="#111111"/>
<circle cx="146.50" cy="289.11" r="2.10" fill="#111111"/>
<circle cx="149.65" cy="288.32" r="2.10" fill="#111111"/>
<circle cx="152.80" cy="287.59" r="2.10" fill="#111111"/>
<circle cx="155.95" cy="286.91" r="2.10" fill="#111111"/>
<circle cx="159.10" cy="286.27" r="2.10" fill="#111111"/>
<circle cx="162.25" cy="285.68" r="2.10" fill="#111111"/>
<circle cx="165.40" cy="285.12" r="2.10" fill="#111111"/>
<circle cx="181.15" cy="282.82" r="2.10" fill="#111111"/>
<circle cx="196.90" cy="281.15" r="2.10" fill="#111111"/>
<circle cx="212.65" cy="279.93" r="2.10" fill="#111111"/>
<circle cx="228.40" cy="279.05" r="2.10" fill="#111111"/>
<circle cx="244.15" cy="278.44" r="2.10" fill="#111111"/>
<path d="M74.05,346.35L77.20,330.12L80.35,318.66L83.50,309.74L86.65,302.44L89.80,296.27L92.95,290.96L96.10,286.30L99.25,282.17L102.40,278.47L105.55,275.13L108.70,272.10L111.85,269.33L115.00,266.78L118.15,264.43L121.30,262.26L124.45,260.24L127.60,258.36L130.75,256.60L133.90,254.96L137.05,253.41L140.20,251.96L143.35,250.60L146.50,249.31L149.65,248.10L152.80,246.95L155.95,245.86L159.10,244.83L162.25,243.85L165.40,242.92L181.15,238.92L196.90,235.76L212.65,233.25L228.40,231.24L244.15,229.64" fill="none" stroke="#c04060" stroke-width="1.2" stroke-linejoin="round"/>
<circle cx="74.05" cy="346.35" r="2.10" fill="#d41e2c"/>
<circle cx="77.20" cy="330.12" r="2.10" fill="#d41e2c"/>
<circle cx="80.35" cy="318.66" r="2.10" fill="#d41e2c"/>
<circle cx="83.50" cy="309.74" r="2.10" fill="#d41e2c"/>
<circle cx="86.65" cy="302.44" r="2.10" fill="#d41e2c"/>
<circle cx="89.80" cy="296.27" r="2.10" fill="#d41e2c"/>
<circle cx="92.95" cy="290.96" r="2.10" fill="#d41e2c"/>
<circle cx="96.10" cy="286.30" r="2.10" fill="#d41e2c"/>
<circle cx="99.25" cy="282.17" r="2.10" fill="#d41e2c"/>
<circle cx="102.40" cy="278.47" r="2.10" fill="#d41e2c"/>
<circle cx="105.55" cy="275.13" r="2.10" fill="#d41e2c"/>
<circle cx="108.70" cy="272.10" r="2.10" fill="#d41e2c"/>
<circle cx="111.85" cy="269.33" r="2.10" fill="#d41e2c"/>
<circle cx="115.00" cy="266.78" r="2.10" fill="#d41e2c"/>
<circle cx="118.15" cy="264.43" r="2.10" fill="#d41e2c"/>
<circle cx="121.30" cy="262.26" r="2.10" fill="#d41e2c"/>
<circle cx="124.45" cy="260.24" r="2.10" fill="#d41e2c"/>
<circle cx="127.60" cy="258.36" r="2.10" fill="#d41e2c"/>
<circle cx="130.75" cy="256.60" r="2.10" fill="#d41e2c"/>
<circle cx="133.90" cy="254.96" r="2.10" fill="#d41e2c"/>
<circle cx="137.05" cy="253.41" r="2.10" fill="#d41e2c"/>
<circle cx="140.20" cy="251.96" r="2.10" fill="#d41e2c"/>
<circle cx="143.35" cy="250.60" r="2.10" fill="#d41e2c"/>
<circle cx="146.50" cy="249.31" r="2.10" fill="#d41e2c"/>
<circle cx="149.65" cy="248.10" r="2.10" fill="#d41e2c"/>
<circle cx="152.80" cy="246.95" r="2.10" fill="#d41e2c"/>
<circle cx="155.95" cy="245.86" r="2.10" fill="#d41e2c"/>
<circle cx="159.10" cy="244.83" r="2.10" fill="#d41e2c"/>
<circle cx="162.25" cy="243.85" r="2.10" fill="#d41e2c"/>
<circle cx="165.40" cy="242.92" r="2.10" fill="#d41e2c"/>
<circle cx="181.15" cy="238.92" r="2.10" fill="#d41e2c"/>
<circle cx="196.90" cy="235.76" r="2.10" fill="#d41e2c"/>
<circle cx="212.65" cy="233.25" r="2.10" fill="#d41e2c"/>
<circle cx="228.40" cy="231.24" r="2.10" fill="#d41e2c"/>
<circle cx="244.15" cy="229.64" r="2.10" fill="#d41e2c"/>
<path d="M74.05,362.09L77.20,346.82L80.35,335.82L83.50,327.27L86.65,320.33L89.80,314.54L92.95,309.61L96.10,305.35L99.25,301.62L102.40,298.33L105.55,295.39L108.70,292.75L111.85,290.36L115.00,288.19L118.15,286.21L121.30,284.40L124.45,282.73L127.60,281.18L130.75,279.76L133.90,278.43L137.05,277.20L140.20,276.04L143.35,274.97L146.50,273.96L149.65,273.01L152.80,272.12L155.95,271.29L159.10,270.50L162.25,269.75L165.40,269.05L181.15,266.05L196.90,263.74L212.65,261.92L228.40,260.48L244.15,259.33" fill="none" stroke="#506080" stroke-width="1.2" stroke-linejoin="round"/>
<path d="M74.05,359.57L76.44,363.60L71.66,363.60Z" fill="#27449a"/>
<path d="M77.20,344.30L79.59,348.33L74.81,348.33Z" fill="#27449a"/>
<path d="M80.35,333.30L82.74,337.33L77.96,337.33Z" fill="#27449a"/>
<path d="M83.50,324.75L85.89,328.78L81.11,328.78Z" fill="#27449a"/>
<path d="M86.65,317.81L89.04,321.84L84.26,321.84Z" fill="#27449a"/>
<path d="M89.80,312.02L92.19,316.05L87.41,316.05Z" fill="#27449a"/>
<path d="M92.95,307.09L95.34,311.12L90.56,311.12Z" fill="#27449a"/>
<path d="M96.10,302.83L98.49,306.86L93.71,306.86Z" fill="#27449a"/>
<path d="M99.25,299.10L101.64,303.14L96.86,303.14Z" fill="#27449a"/>
<path d="M102.40,295.81L104.79,299.84L100.01,299.84Z" fill="#27449a"/>
<path d="M105.55,292.87L107.94,296.90L103.16,296.90Z" fill="#27449a"/>
<path d="M108.70,290.23L111.09,294.26L106.31,294.26Z" fill="#27449a"/>
<path d="M111.85,287.84L114.24,291.87L109.46,291.87Z" fill="#27449a"/>
<path d="M115.00,285.67L117.39,289.70L112.61,289.70Z" fill="#27449a"/>
<path d="M118.15,283.69L120.54,287.72L115.76,287.72Z" fill="#27449a"/>
<path d="M121.30,281.88L123.69,285.91L118.91,285.91Z" fill="#27449a"/>
<path d="M124.45,280.21L126.84,284.24L122.06,284.24Z" fill="#27449a"/>
<path d="M127.60,278.66L129.99,282.70L125.21,282.70Z" fill="#27449a"/>
<path d="M130.75,277.24L133.14,281.27L128.36,281.27Z" fill="#27449a"/>
<path d="M133.90,275.91L136.29,279.94L131.51,279.94Z" fill="#27449a"/>
<path d="M137.05,274.68L139.44,278.71L134.66,278.71Z" fill="#27449a"/>
<path d="M140.20,273.52L142.59,277.56L137.81,277.56Z" fill="#27449a"/>
<path d="M143.35,272.45L145.74,276.48L140.96,276.48Z" fill="#27449a"/>
<path d="M146.50,271.44L148.89,275.47L144.11,275.47Z" fill="#27449a"/>
<path d="M149.65,270.49L152.04,274.53L147.26,274.53Z" fill="#27449a"/>
<path d="M152.80,269.60L155.19,273.64L150.41,273.64Z" fill="#27449a"/>
<path d="M155.95,268.77L158.34,272.80L153.56,272.80Z" fill="#27449a"/>
<path d="M159.10,267.98L161.49,272.01L156.71,272.01Z" fill="#27449a"/>
<path d="M162.25,267.23L164.64,271.27L159.86,271.27Z" fill="#27449a"/>
<path d="M165.40,266.53L167.79,270.56L163.01,270.56Z" fill="#27449a"/>
<path d="M181.15,263.53L183.54,267.57L178.76,267.57Z" fill="#27449a"/>
<path d="M196.90,261.22L199.29,265.25L194.51,265.25Z" fill="#27449a"/>
<path d="M212.65,259.40L215.04,263.43L210.26,263.43Z" fill="#27449a"/>
<path d="M228.40,257.96L230.79,261.99L226.01,261.99Z" fill="#27449a"/>
<path d="M244.15,256.81L246.54,260.84L241.76,260.84Z" fill="#27449a"/>
<path d="M192.3,314.8H210.9" stroke="#333" stroke-width="1.2"/>
<rect x="199.89" y="313.09" width="3.42" height="3.42" fill="#111111"/>
<text transform="translate(211.90,314.80) scale(0.97,1.05)" y="5.6" text-anchor="start"><tspan class="c">未处理</tspan></text>
<path d="M192.3,329.6H210.9" stroke="#c8406a" stroke-width="1.2"/>
<circle cx="201.60" cy="329.60" r="1.80" fill="#d41e2c"/>
<text transform="translate(210.70,329.60) scale(0.97,1.05)" y="4.1" text-anchor="start">FC117</text>
<path d="M192.3,344.3H210.9" stroke="#4a6890" stroke-width="1.2"/>
<path d="M201.60,342.14L203.65,345.60L199.55,345.60Z" fill="#27449a"/>
<text transform="translate(212.10,344.30) scale(0.97,1.05)" y="4.1" text-anchor="start">FC134</text>
<path d="M335.0,220.2V369.6H539.1" fill="none" stroke="#858585" stroke-width="1.35"/>
<path d="M335.0,355.11h3" stroke="#858585" stroke-width="1"/>
<text transform="translate(331.00,355.11) scale(0.97,1.05)" y="4.9" text-anchor="end">2.8</text>
<path d="M335.0,328.12h3" stroke="#858585" stroke-width="1"/>
<text transform="translate(331.00,328.12) scale(0.97,1.05)" y="4.9" text-anchor="end">5.6</text>
<path d="M335.0,301.12h3" stroke="#858585" stroke-width="1"/>
<text transform="translate(331.00,301.12) scale(0.97,1.05)" y="4.9" text-anchor="end">8.4</text>
<path d="M335.0,274.13h3" stroke="#858585" stroke-width="1"/>
<text transform="translate(331.00,274.13) scale(0.97,1.05)" y="4.9" text-anchor="end">11.2</text>
<path d="M335.0,247.14h3" stroke="#858585" stroke-width="1"/>
<text transform="translate(331.00,247.14) scale(0.97,1.05)" y="4.9" text-anchor="end">14.0</text>
<path d="M335.0,220.15h3" stroke="#858585" stroke-width="1"/>
<text transform="translate(331.00,220.15) scale(0.97,1.05)" y="4.9" text-anchor="end">16.8</text>
<path d="M350.80,369.6v-3" stroke="#858585" stroke-width="1"/>
<text transform="translate(350.80,378.70) scale(0.97,1.05)" y="4.1" text-anchor="middle">0</text>
<path d="M382.18,369.6v-3" stroke="#858585" stroke-width="1"/>
<text transform="translate(382.18,378.70) scale(0.97,1.05)" y="4.1" text-anchor="middle">10</text>
<path d="M413.56,369.6v-3" stroke="#858585" stroke-width="1"/>
<text transform="translate(413.56,378.70) scale(0.97,1.05)" y="4.1" text-anchor="middle">20</text>
<path d="M444.94,369.6v-3" stroke="#858585" stroke-width="1"/>
<text transform="translate(444.94,378.70) scale(0.97,1.05)" y="4.1" text-anchor="middle">30</text>
<path d="M476.32,369.6v-3" stroke="#858585" stroke-width="1"/>
<text transform="translate(476.32,378.70) scale(0.97,1.05)" y="4.1" text-anchor="middle">40</text>
<path d="M507.70,369.6v-3" stroke="#858585" stroke-width="1"/>
<text transform="translate(507.70,378.70) scale(0.97,1.05)" y="4.1" text-anchor="middle">50</text>
<path d="M539.08,369.6v-3" stroke="#858585" stroke-width="1"/>
<text transform="translate(539.08,378.70) scale(0.97,1.05)" y="4.1" text-anchor="middle">60</text>
<text transform="translate(298.8,290.0) rotate(-90)" text-anchor="middle" y="4.5"><tspan class="c">解吸量</tspan>/(cm<tspan font-size="7" dy="-4">3</tspan><tspan dy="4">·g</tspan><tspan font-size="7" dy="-4">-1</tspan><tspan dy="4">)</tspan></text>
<text transform="translate(438.60,394.00) scale(0.97,1.05)" y="4.3" text-anchor="middle"><tspan class="c">时间</tspan>/min</text>
<text transform="translate(398.00,345.70) scale(0.97,1.05)" y="4.1" text-anchor="start" font-weight="bold" style="stroke-width:0.1px">2.0 MPa</text>
<path d="M353.94,358.58L357.08,347.12L360.21,337.83L363.35,330.28L366.49,324.08L369.63,318.92L372.77,314.57L375.90,310.87L379.04,307.70L382.18,304.94L385.32,302.54L388.46,300.43L391.59,298.56L394.73,296.89L397.87,295.41L401.01,294.08L404.15,292.87L407.28,291.79L410.42,290.80L413.56,289.90L416.70,289.08L419.84,288.33L422.97,287.64L426.11,287.01L429.25,286.42L432.39,285.89L435.53,285.39L438.66,284.93L441.80,284.50L444.94,284.11L460.63,282.52L476.32,281.40L492.01,280.62L507.70,280.08L523.39,279.72" fill="none" stroke="#333" stroke-width="1.2" stroke-linejoin="round"/>
<circle cx="353.94" cy="358.58" r="2.10" fill="#111111"/>
<circle cx="357.08" cy="347.12" r="2.10" fill="#111111"/>
<circle cx="360.21" cy="337.83" r="2.10" fill="#111111"/>
<circle cx="363.35" cy="330.28" r="2.10" fill="#111111"/>
<circle cx="366.49" cy="324.08" r="2.10" fill="#111111"/>
<circle cx="369.63" cy="318.92" r="2.10" fill="#111111"/>
<circle cx="372.77" cy="314.57" r="2.10" fill="#111111"/>
<circle cx="375.90" cy="310.87" r="2.10" fill="#111111"/>
<circle cx="379.04" cy="307.70" r="2.10" fill="#111111"/>
<circle cx="382.18" cy="304.94" r="2.10" fill="#111111"/>
<circle cx="385.32" cy="302.54" r="2.10" fill="#111111"/>
<circle cx="388.46" cy="300.43" r="2.10" fill="#111111"/>
<circle cx="391.59" cy="298.56" r="2.10" fill="#111111"/>
<circle cx="394.73" cy="296.89" r="2.10" fill="#111111"/>
<circle cx="397.87" cy="295.41" r="2.10" fill="#111111"/>
<circle cx="401.01" cy="294.08" r="2.10" fill="#111111"/>
<circle cx="404.15" cy="292.87" r="2.10" fill="#111111"/>
<circle cx="407.28" cy="291.79" r="2.10" fill="#111111"/>
<circle cx="410.42" cy="290.80" r="2.10" fill="#111111"/>
<circle cx="413.56" cy="289.90" r="2.10" fill="#111111"/>
<circle cx="416.70" cy="289.08" r="2.10" fill="#111111"/>
<circle cx="419.84" cy="288.33" r="2.10" fill="#111111"/>
<circle cx="422.97" cy="287.64" r="2.10" fill="#111111"/>
<circle cx="426.11" cy="287.01" r="2.10" fill="#111111"/>
<circle cx="429.25" cy="286.42" r="2.10" fill="#111111"/>
<circle cx="432.39" cy="285.89" r="2.10" fill="#111111"/>
<circle cx="435.53" cy="285.39" r="2.10" fill="#111111"/>
<circle cx="438.66" cy="284.93" r="2.10" fill="#111111"/>
<circle cx="441.80" cy="284.50" r="2.10" fill="#111111"/>
<circle cx="444.94" cy="284.11" r="2.10" fill="#111111"/>
<circle cx="460.63" cy="282.52" r="2.10" fill="#111111"/>
<circle cx="476.32" cy="281.40" r="2.10" fill="#111111"/>
<circle cx="492.01" cy="280.62" r="2.10" fill="#111111"/>
<circle cx="507.70" cy="280.08" r="2.10" fill="#111111"/>
<circle cx="523.39" cy="279.72" r="2.10" fill="#111111"/>
<path d="M353.94,345.73L357.08,328.25L360.21,316.70L363.35,307.97L366.49,300.93L369.63,295.04L372.77,289.98L375.90,285.55L379.04,281.62L382.18,278.10L385.32,274.91L388.46,272.00L391.59,269.33L394.73,266.88L397.87,264.61L401.01,262.50L404.15,260.53L407.28,258.69L410.42,256.97L413.56,255.35L416.70,253.82L419.84,252.39L422.97,251.03L426.11,249.75L429.25,248.53L432.39,247.38L435.53,246.29L438.66,245.25L441.80,244.26L444.94,243.32L460.63,239.24L476.32,236.01L492.01,233.43L507.70,231.37L523.39,229.74" fill="none" stroke="#c04060" stroke-width="1.2" stroke-linejoin="round"/>
<circle cx="353.94" cy="345.73" r="2.10" fill="#d41e2c"/>
<circle cx="357.08" cy="328.25" r="2.10" fill="#d41e2c"/>
<circle cx="360.21" cy="316.70" r="2.10" fill="#d41e2c"/>
<circle cx="363.35" cy="307.97" r="2.10" fill="#d41e2c"/>
<circle cx="366.49" cy="300.93" r="2.10" fill="#d41e2c"/>
<circle cx="369.63" cy="295.04" r="2.10" fill="#d41e2c"/>
<circle cx="372.77" cy="289.98" r="2.10" fill="#d41e2c"/>
<circle cx="375.90" cy="285.55" r="2.10" fill="#d41e2c"/>
<circle cx="379.04" cy="281.62" r="2.10" fill="#d41e2c"/>
<circle cx="382.18" cy="278.10" r="2.10" fill="#d41e2c"/>
<circle cx="385.32" cy="274.91" r="2.10" fill="#d41e2c"/>
<circle cx="388.46" cy="272.00" r="2.10" fill="#d41e2c"/>
<circle cx="391.59" cy="269.33" r="2.10" fill="#d41e2c"/>
<circle cx="394.73" cy="266.88" r="2.10" fill="#d41e2c"/>
<circle cx="397.87" cy="264.61" r="2.10" fill="#d41e2c"/>
<circle cx="401.01" cy="262.50" r="2.10" fill="#d41e2c"/>
<circle cx="404.15" cy="260.53" r="2.10" fill="#d41e2c"/>
<circle cx="407.28" cy="258.69" r="2.10" fill="#d41e2c"/>
<circle cx="410.42" cy="256.97" r="2.10" fill="#d41e2c"/>
<circle cx="413.56" cy="255.35" r="2.10" fill="#d41e2c"/>
<circle cx="416.70" cy="253.82" r="2.10" fill="#d41e2c"/>
<circle cx="419.84" cy="252.39" r="2.10" fill="#d41e2c"/>
<circle cx="422.97" cy="251.03" r="2.10" fill="#d41e2c"/>
<circle cx="426.11" cy="249.75" r="2.10" fill="#d41e2c"/>
<circle cx="429.25" cy="248.53" r="2.10" fill="#d41e2c"/>
<circle cx="432.39" cy="247.38" r="2.10" fill="#d41e2c"/>
<circle cx="435.53" cy="246.29" r="2.10" fill="#d41e2c"/>
<circle cx="438.66" cy="245.25" r="2.10" fill="#d41e2c"/>
<circle cx="441.80" cy="244.26" r="2.10" fill="#d41e2c"/>
<circle cx="444.94" cy="243.32" r="2.10" fill="#d41e2c"/>
<circle cx="460.63" cy="239.24" r="2.10" fill="#d41e2c"/>
<circle cx="476.32" cy="236.01" r="2.10" fill="#d41e2c"/>
<circle cx="492.01" cy="233.43" r="2.10" fill="#d41e2c"/>
<circle cx="507.70" cy="231.37" r="2.10" fill="#d41e2c"/>
<circle cx="523.39" cy="229.74" r="2.10" fill="#d41e2c"/>
<path d="M353.94,358.48L357.08,346.52L360.21,336.74L363.35,328.62L366.49,321.78L369.63,315.96L372.77,310.94L375.90,306.57L379.04,302.74L382.18,299.36L385.32,296.35L388.46,293.67L391.59,291.25L394.73,289.07L397.87,287.09L401.01,285.29L404.15,283.65L407.28,282.14L410.42,280.75L413.56,279.48L416.70,278.30L419.84,277.21L422.97,276.20L426.11,275.26L429.25,274.38L432.39,273.57L435.53,272.80L438.66,272.09L441.80,271.42L444.94,270.80L460.63,268.19L476.32,266.25L492.01,264.79L507.70,263.68L523.39,262.83" fill="none" stroke="#506080" stroke-width="1.2" stroke-linejoin="round"/>
<path d="M353.94,355.96L356.33,359.99L351.54,359.99Z" fill="#27449a"/>
<path d="M357.08,344.00L359.47,348.03L354.68,348.03Z" fill="#27449a"/>
<path d="M360.21,334.22L362.61,338.25L357.82,338.25Z" fill="#27449a"/>
<path d="M363.35,326.10L365.75,330.13L360.96,330.13Z" fill="#27449a"/>
<path d="M366.49,319.26L368.88,323.30L364.10,323.30Z" fill="#27449a"/>
<path d="M369.63,313.44L372.02,317.47L367.23,317.47Z" fill="#27449a"/>
<path d="M372.77,308.42L375.16,312.45L370.37,312.45Z" fill="#27449a"/>
<path d="M375.90,304.05L378.30,308.08L373.51,308.08Z" fill="#27449a"/>
<path d="M379.04,300.22L381.44,304.26L376.65,304.26Z" fill="#27449a"/>
<path d="M382.18,296.84L384.57,300.87L379.79,300.87Z" fill="#27449a"/>
<path d="M385.32,293.83L387.71,297.87L382.92,297.87Z" fill="#27449a"/>
<path d="M388.46,291.15L390.85,295.18L386.06,295.18Z" fill="#27449a"/>
<path d="M391.59,288.73L393.99,292.76L389.20,292.76Z" fill="#27449a"/>
<path d="M394.73,286.55L397.13,290.58L392.34,290.58Z" fill="#27449a"/>
<path d="M397.87,284.57L400.26,288.60L395.48,288.60Z" fill="#27449a"/>
<path d="M401.01,282.77L403.40,286.80L398.61,286.80Z" fill="#27449a"/>
<path d="M404.15,281.13L406.54,285.16L401.75,285.16Z" fill="#27449a"/>
<path d="M407.28,279.62L409.68,283.65L404.89,283.65Z" fill="#27449a"/>
<path d="M410.42,278.23L412.82,282.27L408.03,282.27Z" fill="#27449a"/>
<path d="M413.56,276.96L415.95,280.99L411.17,280.99Z" fill="#27449a"/>
<path d="M416.70,275.78L419.09,279.81L414.30,279.81Z" fill="#27449a"/>
<path d="M419.84,274.69L422.23,278.72L417.44,278.72Z" fill="#27449a"/>
<path d="M422.97,273.68L425.37,277.71L420.58,277.71Z" fill="#27449a"/>
<path d="M426.11,272.74L428.51,276.77L423.72,276.77Z" fill="#27449a"/>
<path d="M429.25,271.86L431.64,275.89L426.86,275.89Z" fill="#27449a"/>
<path d="M432.39,271.05L434.78,275.08L429.99,275.08Z" fill="#27449a"/>
<path d="M435.53,270.28L437.92,274.32L433.13,274.32Z" fill="#27449a"/>
<path d="M438.66,269.57L441.06,273.60L436.27,273.60Z" fill="#27449a"/>
<path d="M441.80,268.90L444.20,272.93L439.41,272.93Z" fill="#27449a"/>
<path d="M444.94,268.28L447.33,272.31L442.55,272.31Z" fill="#27449a"/>
<path d="M460.63,265.67L463.02,269.70L458.24,269.70Z" fill="#27449a"/>
<path d="M476.32,263.73L478.71,267.76L473.93,267.76Z" fill="#27449a"/>
<path d="M492.01,262.27L494.40,266.30L489.62,266.30Z" fill="#27449a"/>
<path d="M507.70,261.16L510.09,265.19L505.31,265.19Z" fill="#27449a"/>
<path d="M523.39,260.31L525.78,264.34L521.00,264.34Z" fill="#27449a"/>
<path d="M470.6,314.6H487.5" stroke="#333" stroke-width="1.2"/>
<rect x="477.34" y="312.89" width="3.42" height="3.42" fill="#111111"/>
<text transform="translate(490.90,314.60) scale(0.97,1.05)" y="5.6" text-anchor="start"><tspan class="c">未处理</tspan></text>
<path d="M470.6,330.5H487.5" stroke="#c8406a" stroke-width="1.2"/>
<circle cx="479.05" cy="330.50" r="1.80" fill="#d41e2c"/>
<text transform="translate(490.00,330.50) scale(0.97,1.05)" y="4.1" text-anchor="start">FC117</text>
<path d="M470.6,345.0H487.5" stroke="#4a6890" stroke-width="1.2"/>
<path d="M479.05,342.84L481.10,346.30L477.00,346.30Z" fill="#27449a"/>
<text transform="translate(491.90,345.00) scale(0.97,1.05)" y="4.1" text-anchor="start">FC134</text>
<path d="M616.0,219.6V369.3H818.6" fill="none" stroke="#858585" stroke-width="1.35"/>
<path d="M616.0,352.01h3" stroke="#858585" stroke-width="1"/>
<text transform="translate(612.00,352.01) scale(0.97,1.05)" y="4.9" text-anchor="end">3</text>
<path d="M616.0,325.52h3" stroke="#858585" stroke-width="1"/>
<text transform="translate(612.00,325.52) scale(0.97,1.05)" y="4.9" text-anchor="end">6</text>
<path d="M616.0,299.03h3" stroke="#858585" stroke-width="1"/>
<text transform="translate(612.00,299.03) scale(0.97,1.05)" y="4.9" text-anchor="end">9</text>
<path d="M616.0,272.54h3" stroke="#858585" stroke-width="1"/>
<text transform="translate(612.00,272.54) scale(0.97,1.05)" y="4.9" text-anchor="end">12</text>
<path d="M616.0,246.05h3" stroke="#858585" stroke-width="1"/>
<text transform="translate(612.00,246.05) scale(0.97,1.05)" y="4.9" text-anchor="end">15</text>
<path d="M616.0,219.56h3" stroke="#858585" stroke-width="1"/>
<text transform="translate(612.00,219.56) scale(0.97,1.05)" y="4.9" text-anchor="end">18</text>
<path d="M632.20,369.3v-3" stroke="#858585" stroke-width="1"/>
<text transform="translate(632.20,378.70) scale(0.97,1.05)" y="4.1" text-anchor="middle">0</text>
<path d="M663.27,369.3v-3" stroke="#858585" stroke-width="1"/>
<text transform="translate(663.27,378.70) scale(0.97,1.05)" y="4.1" text-anchor="middle">10</text>
<path d="M694.34,369.3v-3" stroke="#858585" stroke-width="1"/>
<text transform="translate(694.34,378.70) scale(0.97,1.05)" y="4.1" text-anchor="middle">20</text>
<path d="M725.41,369.3v-3" stroke="#858585" stroke-width="1"/>
<text transform="translate(725.41,378.70) scale(0.97,1.05)" y="4.1" text-anchor="middle">30</text>
<path d="M756.48,369.3v-3" stroke="#858585" stroke-width="1"/>
<text transform="translate(756.48,378.70) scale(0.97,1.05)" y="4.1" text-anchor="middle">40</text>
<path d="M787.55,369.3v-3" stroke="#858585" stroke-width="1"/>
<text transform="translate(787.55,378.70) scale(0.97,1.05)" y="4.1" text-anchor="middle">50</text>
<path d="M818.62,369.3v-3" stroke="#858585" stroke-width="1"/>
<text transform="translate(818.62,378.70) scale(0.97,1.05)" y="4.1" text-anchor="middle">60</text>
<text transform="translate(583.6,290.0) rotate(-90)" text-anchor="middle" y="4.5"><tspan class="c">解吸量</tspan>/(cm<tspan font-size="7" dy="-4">3</tspan><tspan dy="4">·g</tspan><tspan font-size="7" dy="-4">-1</tspan><tspan dy="4">)</tspan></text>
<text transform="translate(721.00,393.70) scale(0.97,1.05)" y="4.3" text-anchor="middle"><tspan class="c">时间</tspan>/min</text>
<text transform="translate(685.20,345.50) scale(0.97,1.05)" y="4.1" text-anchor="start" font-weight="bold" style="stroke-width:0.1px">2.5 MPa</text>
<path d="M635.31,357.37L638.41,346.72L641.52,337.74L644.63,330.34L647.74,324.23L650.84,319.14L653.95,314.88L657.06,311.27L660.16,308.18L663.27,305.52L666.38,303.20L669.48,301.18L672.59,299.40L675.70,297.82L678.81,296.41L681.91,295.16L685.02,294.02L688.13,293.00L691.23,292.07L694.34,291.23L697.45,290.46L700.55,289.76L703.66,289.11L706.77,288.51L709.88,287.96L712.98,287.46L716.09,286.99L719.20,286.55L722.30,286.14L725.41,285.76L740.95,284.21L756.48,283.07L772.02,282.22L787.55,281.57L803.09,281.07" fill="none" stroke="#333" stroke-width="1.2" stroke-linejoin="round"/>
<circle cx="635.31" cy="357.37" r="2.10" fill="#111111"/>
<circle cx="638.41" cy="346.72" r="2.10" fill="#111111"/>
<circle cx="641.52" cy="337.74" r="2.10" fill="#111111"/>
<circle cx="644.63" cy="330.34" r="2.10" fill="#111111"/>
<circle cx="647.74" cy="324.23" r="2.10" fill="#111111"/>
<circle cx="650.84" cy="319.14" r="2.10" fill="#111111"/>
<circle cx="653.95" cy="314.88" r="2.10" fill="#111111"/>
<circle cx="657.06" cy="311.27" r="2.10" fill="#111111"/>
<circle cx="660.16" cy="308.18" r="2.10" fill="#111111"/>
<circle cx="663.27" cy="305.52" r="2.10" fill="#111111"/>
<circle cx="666.38" cy="303.20" r="2.10" fill="#111111"/>
<circle cx="669.48" cy="301.18" r="2.10" fill="#111111"/>
<circle cx="672.59" cy="299.40" r="2.10" fill="#111111"/>
<circle cx="675.70" cy="297.82" r="2.10" fill="#111111"/>
<circle cx="678.81" cy="296.41" r="2.10" fill="#111111"/>
<circle cx="681.91" cy="295.16" r="2.10" fill="#111111"/>
<circle cx="685.02" cy="294.02" r="2.10" fill="#111111"/>
<circle cx="688.13" cy="293.00" r="2.10" fill="#111111"/>
<circle cx="691.23" cy="292.07" r="2.10" fill="#111111"/>
<circle cx="694.34" cy="291.23" r="2.10" fill="#111111"/>
<circle cx="697.45" cy="290.46" r="2.10" fill="#111111"/>
<circle cx="700.55" cy="289.76" r="2.10" fill="#111111"/>
<circle cx="703.66" cy="289.11" r="2.10" fill="#111111"/>
<circle cx="706.77" cy="288.51" r="2.10" fill="#111111"/>
<circle cx="709.88" cy="287.96" r="2.10" fill="#111111"/>
<circle cx="712.98" cy="287.46" r="2.10" fill="#111111"/>
<circle cx="716.09" cy="286.99" r="2.10" fill="#111111"/>
<circle cx="719.20" cy="286.55" r="2.10" fill="#111111"/>
<circle cx="722.30" cy="286.14" r="2.10" fill="#111111"/>
<circle cx="725.41" cy="285.76" r="2.10" fill="#111111"/>
<circle cx="740.95" cy="284.21" r="2.10" fill="#111111"/>
<circle cx="756.48" cy="283.07" r="2.10" fill="#111111"/>
<circle cx="772.02" cy="282.22" r="2.10" fill="#111111"/>
<circle cx="787.55" cy="281.57" r="2.10" fill="#111111"/>
<circle cx="803.09" cy="281.07" r="2.10" fill="#111111"/>
<path d="M635.31,343.62L638.41,326.37L641.52,314.93L644.63,306.31L647.74,299.40L650.84,293.66L653.95,288.75L657.06,284.49L660.16,280.74L663.27,277.39L666.38,274.39L669.48,271.66L672.59,269.18L675.70,266.91L678.81,264.82L681.91,262.89L685.02,261.10L688.13,259.44L691.23,257.89L694.34,256.45L697.45,255.09L700.55,253.82L703.66,252.63L706.77,251.51L709.88,250.45L712.98,249.46L716.09,248.52L719.20,247.63L722.30,246.79L725.41,245.99L740.95,242.60L756.48,239.99L772.02,237.98L787.55,236.44L803.09,235.27" fill="none" stroke="#c04060" stroke-width="1.2" stroke-linejoin="round"/>
<circle cx="635.31" cy="343.62" r="2.10" fill="#d41e2c"/>
<circle cx="638.41" cy="326.37" r="2.10" fill="#d41e2c"/>
<circle cx="641.52" cy="314.93" r="2.10" fill="#d41e2c"/>
<circle cx="644.63" cy="306.31" r="2.10" fill="#d41e2c"/>
<circle cx="647.74" cy="299.40" r="2.10" fill="#d41e2c"/>
<circle cx="650.84" cy="293.66" r="2.10" fill="#d41e2c"/>
<circle cx="653.95" cy="288.75" r="2.10" fill="#d41e2c"/>
<circle cx="657.06" cy="284.49" r="2.10" fill="#d41e2c"/>
<circle cx="660.16" cy="280.74" r="2.10" fill="#d41e2c"/>
<circle cx="663.27" cy="277.39" r="2.10" fill="#d41e2c"/>
<circle cx="666.38" cy="274.39" r="2.10" fill="#d41e2c"/>
<circle cx="669.48" cy="271.66" r="2.10" fill="#d41e2c"/>
<circle cx="672.59" cy="269.18" r="2.10" fill="#d41e2c"/>
<circle cx="675.70" cy="266.91" r="2.10" fill="#d41e2c"/>
<circle cx="678.81" cy="264.82" r="2.10" fill="#d41e2c"/>
<circle cx="681.91" cy="262.89" r="2.10" fill="#d41e2c"/>
<circle cx="685.02" cy="261.10" r="2.10" fill="#d41e2c"/>
<circle cx="688.13" cy="259.44" r="2.10" fill="#d41e2c"/>
<circle cx="691.23" cy="257.89" r="2.10" fill="#d41e2c"/>
<circle cx="694.34" cy="256.45" r="2.10" fill="#d41e2c"/>
<circle cx="697.45" cy="255.09" r="2.10" fill="#d41e2c"/>
<circle cx="700.55" cy="253.82" r="2.10" fill="#d41e2c"/>
<circle cx="703.66" cy="252.63" r="2.10" fill="#d41e2c"/>
<circle cx="706.77" cy="251.51" r="2.10" fill="#d41e2c"/>
<circle cx="709.88" cy="250.45" r="2.10" fill="#d41e2c"/>
<circle cx="712.98" cy="249.46" r="2.10" fill="#d41e2c"/>
<circle cx="716.09" cy="248.52" r="2.10" fill="#d41e2c"/>
<circle cx="719.20" cy="247.63" r="2.10" fill="#d41e2c"/>
<circle cx="722.30" cy="246.79" r="2.10" fill="#d41e2c"/>
<circle cx="725.41" cy="245.99" r="2.10" fill="#d41e2c"/>
<circle cx="740.95" cy="242.60" r="2.10" fill="#d41e2c"/>
<circle cx="756.48" cy="239.99" r="2.10" fill="#d41e2c"/>
<circle cx="772.02" cy="237.98" r="2.10" fill="#d41e2c"/>
<circle cx="787.55" cy="236.44" r="2.10" fill="#d41e2c"/>
<circle cx="803.09" cy="235.27" r="2.10" fill="#d41e2c"/>
<path d="M635.31,357.38L638.41,346.70L641.52,337.64L644.63,329.98L647.74,323.48L650.84,317.93L653.95,313.14L657.06,308.98L660.16,305.34L663.27,302.13L666.38,299.28L669.48,296.74L672.59,294.46L675.70,292.40L678.81,290.53L681.91,288.83L685.02,287.28L688.13,285.85L691.23,284.54L694.34,283.33L697.45,282.21L700.55,281.17L703.66,280.21L706.77,279.30L709.88,278.46L712.98,277.67L716.09,276.92L719.20,276.22L722.30,275.56L725.41,274.94L740.95,272.28L756.48,270.20L772.02,268.52L787.55,267.14L803.09,265.98" fill="none" stroke="#506080" stroke-width="1.2" stroke-linejoin="round"/>
<path d="M635.31,354.86L637.70,358.89L632.91,358.89Z" fill="#27449a"/>
<path d="M638.41,344.18L640.81,348.22L636.02,348.22Z" fill="#27449a"/>
<path d="M641.52,335.12L643.92,339.15L639.13,339.15Z" fill="#27449a"/>
<path d="M644.63,327.46L647.02,331.49L642.23,331.49Z" fill="#27449a"/>
<path d="M647.74,320.96L650.13,325.00L645.34,325.00Z" fill="#27449a"/>
<path d="M650.84,315.41L653.24,319.44L648.45,319.44Z" fill="#27449a"/>
<path d="M653.95,310.62L656.34,314.65L651.56,314.65Z" fill="#27449a"/>
<path d="M657.06,306.46L659.45,310.50L654.66,310.50Z" fill="#27449a"/>
<path d="M660.16,302.82L662.56,306.85L657.77,306.85Z" fill="#27449a"/>
<path d="M663.27,299.61L665.66,303.64L660.88,303.64Z" fill="#27449a"/>
<path d="M666.38,296.76L668.77,300.79L663.98,300.79Z" fill="#27449a"/>
<path d="M669.48,294.22L671.88,298.25L667.09,298.25Z" fill="#27449a"/>
<path d="M672.59,291.94L674.99,295.97L670.20,295.97Z" fill="#27449a"/>
<path d="M675.70,289.88L678.09,293.91L673.30,293.91Z" fill="#27449a"/>
<path d="M678.81,288.01L681.20,292.04L676.41,292.04Z" fill="#27449a"/>
<path d="M681.91,286.31L684.31,290.34L679.52,290.34Z" fill="#27449a"/>
<path d="M685.02,284.76L687.41,288.79L682.62,288.79Z" fill="#27449a"/>
<path d="M688.13,283.33L690.52,287.37L685.73,287.37Z" fill="#27449a"/>
<path d="M691.23,282.02L693.63,286.06L688.84,286.06Z" fill="#27449a"/>
<path d="M694.34,280.81L696.73,284.85L691.95,284.85Z" fill="#27449a"/>
<path d="M697.45,279.69L699.84,283.73L695.05,283.73Z" fill="#27449a"/>
<path d="M700.55,278.65L702.95,282.69L698.16,282.69Z" fill="#27449a"/>
<path d="M703.66,277.69L706.06,281.72L701.27,281.72Z" fill="#27449a"/>
<path d="M706.77,276.78L709.16,280.81L704.37,280.81Z" fill="#27449a"/>
<path d="M709.88,275.94L712.27,279.97L707.48,279.97Z" fill="#27449a"/>
<path d="M712.98,275.15L715.38,279.18L710.59,279.18Z" fill="#27449a"/>
<path d="M716.09,274.40L718.48,278.43L713.70,278.43Z" fill="#27449a"/>
<path d="M719.20,273.70L721.59,277.74L716.80,277.74Z" fill="#27449a"/>
<path d="M722.30,273.04L724.70,277.08L719.91,277.08Z" fill="#27449a"/>
<path d="M725.41,272.42L727.80,276.45L723.02,276.45Z" fill="#27449a"/>
<path d="M740.95,269.76L743.34,273.79L738.55,273.79Z" fill="#27449a"/>
<path d="M756.48,267.68L758.87,271.71L754.09,271.71Z" fill="#27449a"/>
<path d="M772.02,266.00L774.41,270.04L769.62,270.04Z" fill="#27449a"/>
<path d="M787.55,264.62L789.94,268.65L785.16,268.65Z" fill="#27449a"/>
<path d="M803.09,263.46L805.48,267.49L800.69,267.49Z" fill="#27449a"/>
<path d="M756.8,315.6H771.5" stroke="#333" stroke-width="1.2"/>
<rect x="762.44" y="313.89" width="3.42" height="3.42" fill="#111111"/>
<text transform="translate(773.00,315.60) scale(0.97,1.05)" y="5.6" text-anchor="start"><tspan class="c">未处理</tspan></text>
<path d="M756.8,330.2H771.5" stroke="#c8406a" stroke-width="1.2"/>
<circle cx="764.15" cy="330.20" r="1.80" fill="#d41e2c"/>
<text transform="translate(772.50,330.20) scale(0.97,1.05)" y="4.1" text-anchor="start">FC117</text>
<path d="M756.8,345.5H771.5" stroke="#4a6890" stroke-width="1.2"/>
<path d="M764.15,343.34L766.20,346.80L762.10,346.80Z" fill="#27449a"/>
<text transform="translate(774.70,345.50) scale(0.97,1.05)" y="4.1" text-anchor="start">FC134</text>
<path d="M153.9,445.6V596.2H341.0" fill="none" stroke="#858585" stroke-width="1.35"/>
<path d="M153.9,582.20h3" stroke="#858585" stroke-width="1"/>
<text transform="translate(148.80,582.20) scale(0.97,1.05)" y="4.9" text-anchor="end">0</text>
<path d="M153.9,554.90h3" stroke="#858585" stroke-width="1"/>
<text transform="translate(148.80,554.90) scale(0.97,1.05)" y="4.9" text-anchor="end">0.2</text>
<path d="M153.9,527.60h3" stroke="#858585" stroke-width="1"/>
<text transform="translate(148.80,527.60) scale(0.97,1.05)" y="4.9" text-anchor="end">0.4</text>
<path d="M153.9,500.30h3" stroke="#858585" stroke-width="1"/>
<text transform="translate(148.80,500.30) scale(0.97,1.05)" y="4.9" text-anchor="end">0.6</text>
<path d="M153.9,473.00h3" stroke="#858585" stroke-width="1"/>
<text transform="translate(148.80,473.00) scale(0.97,1.05)" y="4.9" text-anchor="end">0.8</text>
<path d="M153.9,445.70h3" stroke="#858585" stroke-width="1"/>
<text transform="translate(148.80,445.70) scale(0.97,1.05)" y="4.9" text-anchor="end">1.0</text>
<path d="M171.20,596.2v-3" stroke="#858585" stroke-width="1"/>
<text transform="translate(171.20,605.80) scale(0.97,1.05)" y="4.1" text-anchor="middle">0</text>
<path d="M205.10,596.2v-3" stroke="#858585" stroke-width="1"/>
<text transform="translate(205.10,605.80) scale(0.97,1.05)" y="4.1" text-anchor="middle">10</text>
<path d="M239.00,596.2v-3" stroke="#858585" stroke-width="1"/>
<text transform="translate(239.00,605.80) scale(0.97,1.05)" y="4.1" text-anchor="middle">20</text>
<path d="M272.90,596.2v-3" stroke="#858585" stroke-width="1"/>
<text transform="translate(272.90,605.80) scale(0.97,1.05)" y="4.1" text-anchor="middle">30</text>
<path d="M306.80,596.2v-3" stroke="#858585" stroke-width="1"/>
<text transform="translate(306.80,605.80) scale(0.97,1.05)" y="4.1" text-anchor="middle">40</text>
<path d="M340.70,596.2v-3" stroke="#858585" stroke-width="1"/>
<text transform="translate(340.70,605.80) scale(0.97,1.05)" y="4.1" text-anchor="middle">50</text>
<text transform="translate(120.4,522.2) rotate(-90)" text-anchor="middle" y="4.5"><tspan class="c">解吸速率</tspan>/(cm<tspan font-size="7" dy="-4">3</tspan><tspan dy="4">·min</tspan><tspan font-size="7" dy="-4">-1</tspan><tspan dy="4">)</tspan></text>
<text transform="translate(256.00,620.20) scale(0.97,1.05)" y="4.3" text-anchor="middle"><tspan class="c">时间</tspan>/min</text>
<text transform="translate(299.00,561.20) scale(0.97,1.05)" y="4.1" text-anchor="start" font-weight="bold" style="stroke-width:0.1px">0.5 MPa</text>
<path d="M174.59,485.15L177.98,519.96L181.37,527.60L184.76,535.79L188.15,547.12L191.54,550.94L194.93,554.76L198.32,558.45L201.71,558.45L205.10,562.13L208.49,566.91L211.88,570.60L215.27,569.92L218.66,569.92L222.05,569.92L225.44,569.92L228.83,569.92L232.22,574.42L235.61,574.42L239.00,574.42L242.39,579.06L245.78,574.42L249.17,579.06L252.56,574.42L255.95,579.06L259.34,578.11L262.73,578.11L266.12,578.11L269.51,579.06L272.90,579.06L289.85,578.11L306.80,579.47L323.75,580.15L340.70,580.84" fill="none" stroke="#222" stroke-width="1.2" stroke-linejoin="round"/>
<rect x="172.78" y="483.34" width="3.61" height="3.61" fill="#111111"/>
<rect x="176.17" y="518.15" width="3.61" height="3.61" fill="#111111"/>
<rect x="179.56" y="525.80" width="3.61" height="3.61" fill="#111111"/>
<rect x="182.95" y="533.99" width="3.61" height="3.61" fill="#111111"/>
<rect x="186.34" y="545.31" width="3.61" height="3.61" fill="#111111"/>
<rect x="189.73" y="549.14" width="3.61" height="3.61" fill="#111111"/>
<rect x="193.12" y="552.96" width="3.61" height="3.61" fill="#111111"/>
<rect x="196.51" y="556.64" width="3.61" height="3.61" fill="#111111"/>
<rect x="199.90" y="556.64" width="3.61" height="3.61" fill="#111111"/>
<rect x="203.29" y="560.33" width="3.61" height="3.61" fill="#111111"/>
<rect x="206.68" y="565.11" width="3.61" height="3.61" fill="#111111"/>
<rect x="210.07" y="568.79" width="3.61" height="3.61" fill="#111111"/>
<rect x="213.46" y="568.11" width="3.61" height="3.61" fill="#111111"/>
<rect x="216.85" y="568.11" width="3.61" height="3.61" fill="#111111"/>
<rect x="220.24" y="568.11" width="3.61" height="3.61" fill="#111111"/>
<rect x="223.63" y="568.11" width="3.61" height="3.61" fill="#111111"/>
<rect x="227.02" y="568.11" width="3.61" height="3.61" fill="#111111"/>
<rect x="230.41" y="572.61" width="3.61" height="3.61" fill="#111111"/>
<rect x="233.80" y="572.61" width="3.61" height="3.61" fill="#111111"/>
<rect x="237.19" y="572.61" width="3.61" height="3.61" fill="#111111"/>
<rect x="240.58" y="577.26" width="3.61" height="3.61" fill="#111111"/>
<rect x="243.97" y="572.61" width="3.61" height="3.61" fill="#111111"/>
<rect x="247.36" y="577.26" width="3.61" height="3.61" fill="#111111"/>
<rect x="250.75" y="572.61" width="3.61" height="3.61" fill="#111111"/>
<rect x="254.14" y="577.26" width="3.61" height="3.61" fill="#111111"/>
<rect x="257.53" y="576.30" width="3.61" height="3.61" fill="#111111"/>
<rect x="260.93" y="576.30" width="3.61" height="3.61" fill="#111111"/>
<rect x="264.31" y="576.30" width="3.61" height="3.61" fill="#111111"/>
<rect x="267.70" y="577.26" width="3.61" height="3.61" fill="#111111"/>
<rect x="271.09" y="577.26" width="3.61" height="3.61" fill="#111111"/>
<rect x="288.05" y="576.30" width="3.61" height="3.61" fill="#111111"/>
<rect x="304.99" y="577.67" width="3.61" height="3.61" fill="#111111"/>
<rect x="321.94" y="578.35" width="3.61" height="3.61" fill="#111111"/>
<rect x="338.89" y="579.03" width="3.61" height="3.61" fill="#111111"/>
<path d="M174.59,457.99L177.98,500.30L181.37,516.13L184.76,523.50L188.15,538.66L191.54,547.12L194.93,548.76L198.32,554.76L201.71,556.27L205.10,560.36L208.49,564.46L211.88,566.91L215.27,567.87L218.66,568.55L222.05,569.92L225.44,570.60L228.83,571.55L232.22,572.65L235.61,573.60L239.00,574.42L242.39,574.42L245.78,574.42L249.17,574.97L252.56,575.38L255.95,576.06L259.34,576.74L262.73,577.01L266.12,577.42L269.51,577.83L272.90,578.11L289.85,578.79L306.80,579.47L323.75,580.15L340.70,580.84" fill="none" stroke="#c83a5a" stroke-width="1.2" stroke-linejoin="round"/>
<circle cx="174.59" cy="457.99" r="1.90" fill="#d41e2c"/>
<circle cx="177.98" cy="500.30" r="1.90" fill="#d41e2c"/>
<circle cx="181.37" cy="516.13" r="1.90" fill="#d41e2c"/>
<circle cx="184.76" cy="523.50" r="1.90" fill="#d41e2c"/>
<circle cx="188.15" cy="538.66" r="1.90" fill="#d41e2c"/>
<circle cx="191.54" cy="547.12" r="1.90" fill="#d41e2c"/>
<circle cx="194.93" cy="548.76" r="1.90" fill="#d41e2c"/>
<circle cx="198.32" cy="554.76" r="1.90" fill="#d41e2c"/>
<circle cx="201.71" cy="556.27" r="1.90" fill="#d41e2c"/>
<circle cx="205.10" cy="560.36" r="1.90" fill="#d41e2c"/>
<circle cx="208.49" cy="564.46" r="1.90" fill="#d41e2c"/>
<circle cx="211.88" cy="566.91" r="1.90" fill="#d41e2c"/>
<circle cx="215.27" cy="567.87" r="1.90" fill="#d41e2c"/>
<circle cx="218.66" cy="568.55" r="1.90" fill="#d41e2c"/>
<circle cx="222.05" cy="569.92" r="1.90" fill="#d41e2c"/>
<circle cx="225.44" cy="570.60" r="1.90" fill="#d41e2c"/>
<circle cx="228.83" cy="571.55" r="1.90" fill="#d41e2c"/>
<circle cx="232.22" cy="572.65" r="1.90" fill="#d41e2c"/>
<circle cx="235.61" cy="573.60" r="1.90" fill="#d41e2c"/>
<circle cx="239.00" cy="574.42" r="1.90" fill="#d41e2c"/>
<circle cx="242.39" cy="574.42" r="1.90" fill="#d41e2c"/>
<circle cx="245.78" cy="574.42" r="1.90" fill="#d41e2c"/>
<circle cx="249.17" cy="574.97" r="1.90" fill="#d41e2c"/>
<circle cx="252.56" cy="575.38" r="1.90" fill="#d41e2c"/>
<circle cx="255.95" cy="576.06" r="1.90" fill="#d41e2c"/>
<circle cx="259.34" cy="576.74" r="1.90" fill="#d41e2c"/>
<circle cx="262.73" cy="577.01" r="1.90" fill="#d41e2c"/>
<circle cx="266.12" cy="577.42" r="1.90" fill="#d41e2c"/>
<circle cx="269.51" cy="577.83" r="1.90" fill="#d41e2c"/>
<circle cx="272.90" cy="578.11" r="1.90" fill="#d41e2c"/>
<circle cx="289.85" cy="578.79" r="1.90" fill="#d41e2c"/>
<circle cx="306.80" cy="579.47" r="1.90" fill="#d41e2c"/>
<circle cx="323.75" cy="580.15" r="1.90" fill="#d41e2c"/>
<circle cx="340.70" cy="580.84" r="1.90" fill="#d41e2c"/>
<path d="M174.59,464.40L177.98,496.21L181.37,519.00L184.76,526.51L188.15,534.97L191.54,543.43L194.93,543.43L198.32,550.94L201.71,553.54L205.10,559.40L208.49,563.09L211.88,563.09L215.27,564.46L218.66,564.86L222.05,565.14L225.44,565.82L228.83,566.50L232.22,566.78L235.61,567.19L239.00,567.73L242.39,569.23L245.78,570.60L249.17,571.28L252.56,571.55L255.95,572.65L259.34,574.42L262.73,574.42L266.12,574.42L269.51,575.38L272.90,576.33L289.85,577.42L306.80,578.79L323.75,580.15L340.70,580.84" fill="none" stroke="#3a5588" stroke-width="1.2" stroke-linejoin="round"/>
<path d="M174.59,462.12L176.76,465.77L172.42,465.77Z" fill="#2a3f88"/>
<path d="M177.98,493.93L180.15,497.57L175.81,497.57Z" fill="#2a3f88"/>
<path d="M181.37,516.72L183.54,520.37L179.20,520.37Z" fill="#2a3f88"/>
<path d="M184.76,524.23L186.93,527.88L182.59,527.88Z" fill="#2a3f88"/>
<path d="M188.15,532.69L190.32,536.34L185.98,536.34Z" fill="#2a3f88"/>
<path d="M191.54,541.15L193.71,544.80L189.37,544.80Z" fill="#2a3f88"/>
<path d="M194.93,541.15L197.10,544.80L192.76,544.80Z" fill="#2a3f88"/>
<path d="M198.32,548.66L200.49,552.31L196.15,552.31Z" fill="#2a3f88"/>
<path d="M201.71,551.26L203.88,554.90L199.54,554.90Z" fill="#2a3f88"/>
<path d="M205.10,557.12L207.27,560.77L202.93,560.77Z" fill="#2a3f88"/>
<path d="M208.49,560.81L210.66,564.46L206.32,564.46Z" fill="#2a3f88"/>
<path d="M211.88,560.81L214.05,564.46L209.71,564.46Z" fill="#2a3f88"/>
<path d="M215.27,562.18L217.44,565.82L213.10,565.82Z" fill="#2a3f88"/>
<path d="M218.66,562.58L220.83,566.23L216.49,566.23Z" fill="#2a3f88"/>
<path d="M222.05,562.86L224.22,566.51L219.88,566.51Z" fill="#2a3f88"/>
<path d="M225.44,563.54L227.61,567.19L223.27,567.19Z" fill="#2a3f88"/>
<path d="M228.83,564.22L231.00,567.87L226.66,567.87Z" fill="#2a3f88"/>
<path d="M232.22,564.50L234.39,568.14L230.05,568.14Z" fill="#2a3f88"/>
<path d="M235.61,564.91L237.78,568.55L233.44,568.55Z" fill="#2a3f88"/>
<path d="M239.00,565.45L241.17,569.10L236.83,569.10Z" fill="#2a3f88"/>
<path d="M242.39,566.95L244.56,570.60L240.22,570.60Z" fill="#2a3f88"/>
<path d="M245.78,568.32L247.95,571.97L243.61,571.97Z" fill="#2a3f88"/>
<path d="M249.17,569.00L251.34,572.65L247.00,572.65Z" fill="#2a3f88"/>
<path d="M252.56,569.27L254.73,572.92L250.39,572.92Z" fill="#2a3f88"/>
<path d="M255.95,570.37L258.12,574.01L253.78,574.01Z" fill="#2a3f88"/>
<path d="M259.34,572.14L261.51,575.79L257.17,575.79Z" fill="#2a3f88"/>
<path d="M262.73,572.14L264.90,575.79L260.56,575.79Z" fill="#2a3f88"/>
<path d="M266.12,572.14L268.29,575.79L263.95,575.79Z" fill="#2a3f88"/>
<path d="M269.51,573.10L271.68,576.74L267.34,576.74Z" fill="#2a3f88"/>
<path d="M272.90,574.05L275.07,577.70L270.73,577.70Z" fill="#2a3f88"/>
<path d="M289.85,575.14L292.02,578.79L287.68,578.79Z" fill="#2a3f88"/>
<path d="M306.80,576.51L308.97,580.16L304.63,580.16Z" fill="#2a3f88"/>
<path d="M323.75,577.87L325.92,581.52L321.58,581.52Z" fill="#2a3f88"/>
<path d="M340.70,578.56L342.87,582.20L338.53,582.20Z" fill="#2a3f88"/>
<path d="M249.6,481.4H265.9" stroke="#333" stroke-width="1.2"/>
<rect x="256.04" y="479.69" width="3.42" height="3.42" fill="#111111"/>
<text transform="translate(269.20,481.40) scale(0.97,1.05)" y="5.6" text-anchor="start"><tspan class="c">未处理</tspan></text>
<path d="M249.6,498.3H265.9" stroke="#c8406a" stroke-width="1.2"/>
<circle cx="257.75" cy="498.30" r="1.80" fill="#d41e2c"/>
<text transform="translate(268.50,498.30) scale(0.97,1.05)" y="4.1" text-anchor="start">FC117</text>
<path d="M249.6,513.0H265.9" stroke="#4a6890" stroke-width="1.2"/>
<path d="M257.75,510.84L259.80,514.30L255.70,514.30Z" fill="#27449a"/>
<text transform="translate(269.20,513.00) scale(0.97,1.05)" y="4.1" text-anchor="start">FC134</text>
<path d="M446.9,446.9V595.9H632.8" fill="none" stroke="#858585" stroke-width="1.35"/>
<path d="M446.9,583.90h3" stroke="#858585" stroke-width="1"/>
<text transform="translate(441.40,583.90) scale(0.97,1.05)" y="4.9" text-anchor="end">0</text>
<path d="M446.9,556.50h3" stroke="#858585" stroke-width="1"/>
<text transform="translate(441.40,556.50) scale(0.97,1.05)" y="4.9" text-anchor="end">0.25</text>
<path d="M446.9,529.10h3" stroke="#858585" stroke-width="1"/>
<text transform="translate(441.40,529.10) scale(0.97,1.05)" y="4.9" text-anchor="end">0.50</text>
<path d="M446.9,501.70h3" stroke="#858585" stroke-width="1"/>
<text transform="translate(441.40,501.70) scale(0.97,1.05)" y="4.9" text-anchor="end">0.75</text>
<path d="M446.9,474.30h3" stroke="#858585" stroke-width="1"/>
<text transform="translate(441.40,474.30) scale(0.97,1.05)" y="4.9" text-anchor="end">1.00</text>
<path d="M446.9,446.90h3" stroke="#858585" stroke-width="1"/>
<text transform="translate(441.40,446.90) scale(0.97,1.05)" y="4.9" text-anchor="end">1.25</text>
<path d="M462.20,595.9v-3" stroke="#858585" stroke-width="1"/>
<text transform="translate(462.20,605.80) scale(0.97,1.05)" y="4.1" text-anchor="middle">0</text>
<path d="M496.24,595.9v-3" stroke="#858585" stroke-width="1"/>
<text transform="translate(496.24,605.80) scale(0.97,1.05)" y="4.1" text-anchor="middle">10</text>
<path d="M530.28,595.9v-3" stroke="#858585" stroke-width="1"/>
<text transform="translate(530.28,605.80) scale(0.97,1.05)" y="4.1" text-anchor="middle">20</text>
<path d="M564.32,595.9v-3" stroke="#858585" stroke-width="1"/>
<text transform="translate(564.32,605.80) scale(0.97,1.05)" y="4.1" text-anchor="middle">30</text>
<path d="M598.36,595.9v-3" stroke="#858585" stroke-width="1"/>
<text transform="translate(598.36,605.80) scale(0.97,1.05)" y="4.1" text-anchor="middle">40</text>
<path d="M632.40,595.9v-3" stroke="#858585" stroke-width="1"/>
<text transform="translate(632.40,605.80) scale(0.97,1.05)" y="4.1" text-anchor="middle">50</text>
<text transform="translate(405.5,522.0) rotate(-90)" text-anchor="middle" y="4.5"><tspan class="c">解吸速率</tspan>/(cm<tspan font-size="7" dy="-4">3</tspan><tspan dy="4">·min</tspan><tspan font-size="7" dy="-4">-1</tspan><tspan dy="4">)</tspan></text>
<text transform="translate(546.00,620.20) scale(0.97,1.05)" y="4.3" text-anchor="middle"><tspan class="c">时间</tspan>/min</text>
<text transform="translate(589.00,561.20) scale(0.97,1.05)" y="4.1" text-anchor="start" font-weight="bold" style="stroke-width:0.1px">1.0 MPa</text>
<path d="M465.60,489.64L469.01,521.76L472.41,527.46L475.82,537.87L479.22,547.07L482.62,549.92L486.03,555.62L489.43,557.60L492.84,557.60L496.24,562.20L499.64,571.62L503.05,571.62L506.45,570.75L509.86,569.65L513.26,575.13L516.66,575.35L520.07,575.35L523.47,575.35L526.88,575.35L530.28,575.35L533.68,575.68L537.09,576.01L540.49,578.42L543.90,578.42L547.30,578.42L550.70,578.42L554.11,578.97L557.51,579.52L560.92,580.06L564.32,580.06L581.34,581.16L598.36,581.16L615.38,582.26L632.40,582.26" fill="none" stroke="#222" stroke-width="1.2" stroke-linejoin="round"/>
<rect x="463.80" y="487.84" width="3.61" height="3.61" fill="#111111"/>
<rect x="467.20" y="519.95" width="3.61" height="3.61" fill="#111111"/>
<rect x="470.61" y="525.65" width="3.61" height="3.61" fill="#111111"/>
<rect x="474.01" y="536.06" width="3.61" height="3.61" fill="#111111"/>
<rect x="477.41" y="545.27" width="3.61" height="3.61" fill="#111111"/>
<rect x="480.82" y="548.12" width="3.61" height="3.61" fill="#111111"/>
<rect x="484.22" y="553.82" width="3.61" height="3.61" fill="#111111"/>
<rect x="487.63" y="555.79" width="3.61" height="3.61" fill="#111111"/>
<rect x="491.03" y="555.79" width="3.61" height="3.61" fill="#111111"/>
<rect x="494.44" y="560.39" width="3.61" height="3.61" fill="#111111"/>
<rect x="497.84" y="569.82" width="3.61" height="3.61" fill="#111111"/>
<rect x="501.24" y="569.82" width="3.61" height="3.61" fill="#111111"/>
<rect x="504.65" y="568.94" width="3.61" height="3.61" fill="#111111"/>
<rect x="508.05" y="567.85" width="3.61" height="3.61" fill="#111111"/>
<rect x="511.45" y="573.33" width="3.61" height="3.61" fill="#111111"/>
<rect x="514.86" y="573.55" width="3.61" height="3.61" fill="#111111"/>
<rect x="518.26" y="573.55" width="3.61" height="3.61" fill="#111111"/>
<rect x="521.67" y="573.55" width="3.61" height="3.61" fill="#111111"/>
<rect x="525.07" y="573.55" width="3.61" height="3.61" fill="#111111"/>
<rect x="528.48" y="573.55" width="3.61" height="3.61" fill="#111111"/>
<rect x="531.88" y="573.88" width="3.61" height="3.61" fill="#111111"/>
<rect x="535.28" y="574.20" width="3.61" height="3.61" fill="#111111"/>
<rect x="538.69" y="576.62" width="3.61" height="3.61" fill="#111111"/>
<rect x="542.09" y="576.62" width="3.61" height="3.61" fill="#111111"/>
<rect x="545.50" y="576.62" width="3.61" height="3.61" fill="#111111"/>
<rect x="548.90" y="576.62" width="3.61" height="3.61" fill="#111111"/>
<rect x="552.30" y="577.16" width="3.61" height="3.61" fill="#111111"/>
<rect x="555.71" y="577.71" width="3.61" height="3.61" fill="#111111"/>
<rect x="559.11" y="578.26" width="3.61" height="3.61" fill="#111111"/>
<rect x="562.51" y="578.26" width="3.61" height="3.61" fill="#111111"/>
<rect x="579.54" y="579.36" width="3.61" height="3.61" fill="#111111"/>
<rect x="596.56" y="579.36" width="3.61" height="3.61" fill="#111111"/>
<rect x="613.58" y="580.45" width="3.61" height="3.61" fill="#111111"/>
<rect x="630.60" y="580.45" width="3.61" height="3.61" fill="#111111"/>
<path d="M465.60,451.28L469.01,483.07L472.41,508.60L475.82,528.33L479.22,527.46L482.62,542.36L486.03,546.20L489.43,551.79L492.84,553.65L496.24,559.35L499.64,561.98L503.05,564.17L506.45,564.50L509.86,564.72L513.26,567.46L516.66,569.65L520.07,570.75L523.47,571.30L526.88,573.49L530.28,575.35L533.68,575.35L537.09,575.35L540.49,576.78L543.90,577.98L547.30,578.42L550.70,578.42L554.11,578.42L557.51,577.98L560.92,578.97L564.32,579.52L581.34,580.61L598.36,581.16L615.38,582.26L632.40,582.26" fill="none" stroke="#c83a5a" stroke-width="1.2" stroke-linejoin="round"/>
<circle cx="465.60" cy="451.28" r="1.90" fill="#d41e2c"/>
<circle cx="469.01" cy="483.07" r="1.90" fill="#d41e2c"/>
<circle cx="472.41" cy="508.60" r="1.90" fill="#d41e2c"/>
<circle cx="475.82" cy="528.33" r="1.90" fill="#d41e2c"/>
<circle cx="479.22" cy="527.46" r="1.90" fill="#d41e2c"/>
<circle cx="482.62" cy="542.36" r="1.90" fill="#d41e2c"/>
<circle cx="486.03" cy="546.20" r="1.90" fill="#d41e2c"/>
<circle cx="489.43" cy="551.79" r="1.90" fill="#d41e2c"/>
<circle cx="492.84" cy="553.65" r="1.90" fill="#d41e2c"/>
<circle cx="496.24" cy="559.35" r="1.90" fill="#d41e2c"/>
<circle cx="499.64" cy="561.98" r="1.90" fill="#d41e2c"/>
<circle cx="503.05" cy="564.17" r="1.90" fill="#d41e2c"/>
<circle cx="506.45" cy="564.50" r="1.90" fill="#d41e2c"/>
<circle cx="509.86" cy="564.72" r="1.90" fill="#d41e2c"/>
<circle cx="513.26" cy="567.46" r="1.90" fill="#d41e2c"/>
<circle cx="516.66" cy="569.65" r="1.90" fill="#d41e2c"/>
<circle cx="520.07" cy="570.75" r="1.90" fill="#d41e2c"/>
<circle cx="523.47" cy="571.30" r="1.90" fill="#d41e2c"/>
<circle cx="526.88" cy="573.49" r="1.90" fill="#d41e2c"/>
<circle cx="530.28" cy="575.35" r="1.90" fill="#d41e2c"/>
<circle cx="533.68" cy="575.35" r="1.90" fill="#d41e2c"/>
<circle cx="537.09" cy="575.35" r="1.90" fill="#d41e2c"/>
<circle cx="540.49" cy="576.78" r="1.90" fill="#d41e2c"/>
<circle cx="543.90" cy="577.98" r="1.90" fill="#d41e2c"/>
<circle cx="547.30" cy="578.42" r="1.90" fill="#d41e2c"/>
<circle cx="550.70" cy="578.42" r="1.90" fill="#d41e2c"/>
<circle cx="554.11" cy="578.42" r="1.90" fill="#d41e2c"/>
<circle cx="557.51" cy="577.98" r="1.90" fill="#d41e2c"/>
<circle cx="560.92" cy="578.97" r="1.90" fill="#d41e2c"/>
<circle cx="564.32" cy="579.52" r="1.90" fill="#d41e2c"/>
<circle cx="581.34" cy="580.61" r="1.90" fill="#d41e2c"/>
<circle cx="598.36" cy="581.16" r="1.90" fill="#d41e2c"/>
<circle cx="615.38" cy="582.26" r="1.90" fill="#d41e2c"/>
<circle cx="632.40" cy="582.26" r="1.90" fill="#d41e2c"/>
<path d="M465.60,467.29L469.01,495.56L472.41,520.77L475.82,520.77L479.22,536.77L482.62,537.87L486.03,549.05L489.43,552.12L492.84,552.12L496.24,563.08L499.64,564.17L503.05,564.72L506.45,566.36L509.86,567.46L513.26,569.65L516.66,571.30L520.07,572.94L523.47,574.04L526.88,574.04L530.28,574.04L533.68,575.68L537.09,577.00L540.49,576.23L543.90,575.13L547.30,577.32L550.70,578.42L554.11,578.97L557.51,579.52L560.92,579.74L564.32,580.06L581.34,580.61L598.36,581.16L615.38,582.26L632.40,582.26" fill="none" stroke="#3a5588" stroke-width="1.2" stroke-linejoin="round"/>
<path d="M465.60,465.01L467.77,468.65L463.44,468.65Z" fill="#2a3f88"/>
<path d="M469.01,493.28L471.17,496.93L466.84,496.93Z" fill="#2a3f88"/>
<path d="M472.41,518.49L474.58,522.14L470.25,522.14Z" fill="#2a3f88"/>
<path d="M475.82,518.49L477.98,522.14L473.65,522.14Z" fill="#2a3f88"/>
<path d="M479.22,534.49L481.39,538.14L477.05,538.14Z" fill="#2a3f88"/>
<path d="M482.62,535.59L484.79,539.24L480.46,539.24Z" fill="#2a3f88"/>
<path d="M486.03,546.77L488.19,550.42L483.86,550.42Z" fill="#2a3f88"/>
<path d="M489.43,549.84L491.60,553.48L487.27,553.48Z" fill="#2a3f88"/>
<path d="M492.84,549.84L495.00,553.48L490.67,553.48Z" fill="#2a3f88"/>
<path d="M496.24,560.80L498.41,564.44L494.07,564.44Z" fill="#2a3f88"/>
<path d="M499.64,561.89L501.81,565.54L497.48,565.54Z" fill="#2a3f88"/>
<path d="M503.05,562.44L505.21,566.09L500.88,566.09Z" fill="#2a3f88"/>
<path d="M506.45,564.08L508.62,567.73L504.29,567.73Z" fill="#2a3f88"/>
<path d="M509.86,565.18L512.02,568.83L507.69,568.83Z" fill="#2a3f88"/>
<path d="M513.26,567.37L515.43,571.02L511.09,571.02Z" fill="#2a3f88"/>
<path d="M516.66,569.02L518.83,572.66L514.50,572.66Z" fill="#2a3f88"/>
<path d="M520.07,570.66L522.23,574.31L517.90,574.31Z" fill="#2a3f88"/>
<path d="M523.47,571.76L525.64,575.40L521.31,575.40Z" fill="#2a3f88"/>
<path d="M526.88,571.76L529.04,575.40L524.71,575.40Z" fill="#2a3f88"/>
<path d="M530.28,571.76L532.45,575.40L528.11,575.40Z" fill="#2a3f88"/>
<path d="M533.68,573.40L535.85,577.05L531.52,577.05Z" fill="#2a3f88"/>
<path d="M537.09,574.72L539.25,578.36L534.92,578.36Z" fill="#2a3f88"/>
<path d="M540.49,573.95L542.66,577.60L538.33,577.60Z" fill="#2a3f88"/>
<path d="M543.90,572.85L546.06,576.50L541.73,576.50Z" fill="#2a3f88"/>
<path d="M547.30,575.04L549.47,578.69L545.13,578.69Z" fill="#2a3f88"/>
<path d="M550.70,576.14L552.87,579.79L548.54,579.79Z" fill="#2a3f88"/>
<path d="M554.11,576.69L556.27,580.34L551.94,580.34Z" fill="#2a3f88"/>
<path d="M557.51,577.24L559.68,580.88L555.35,580.88Z" fill="#2a3f88"/>
<path d="M560.92,577.46L563.08,581.10L558.75,581.10Z" fill="#2a3f88"/>
<path d="M564.32,577.78L566.49,581.43L562.15,581.43Z" fill="#2a3f88"/>
<path d="M581.34,578.33L583.51,581.98L579.17,581.98Z" fill="#2a3f88"/>
<path d="M598.36,578.88L600.53,582.53L596.19,582.53Z" fill="#2a3f88"/>
<path d="M615.38,579.98L617.55,583.62L613.21,583.62Z" fill="#2a3f88"/>
<path d="M632.40,579.98L634.57,583.62L630.23,583.62Z" fill="#2a3f88"/>
<path d="M549.4,481.4H565.7" stroke="#333" stroke-width="1.2"/>
<rect x="555.84" y="479.69" width="3.42" height="3.42" fill="#111111"/>
<text transform="translate(568.90,481.40) scale(0.97,1.05)" y="5.6" text-anchor="start"><tspan class="c">未处理</tspan></text>
<path d="M549.4,498.3H565.7" stroke="#c8406a" stroke-width="1.2"/>
<circle cx="557.55" cy="498.30" r="1.80" fill="#d41e2c"/>
<text transform="translate(568.00,498.30) scale(0.97,1.05)" y="4.1" text-anchor="start">FC117</text>
<path d="M549.4,513.0H565.7" stroke="#4a6890" stroke-width="1.2"/>
<path d="M557.55,510.84L559.60,514.30L555.50,514.30Z" fill="#27449a"/>
<text transform="translate(568.90,513.00) scale(0.97,1.05)" y="4.1" text-anchor="start">FC134</text>
<path d="M79.3,642.5V792.6H264.5" fill="none" stroke="#858585" stroke-width="1.35"/>
<path d="M79.3,782.80h3" stroke="#858585" stroke-width="1"/>
<text transform="translate(72.50,782.80) scale(0.97,1.05)" y="4.9" text-anchor="end">0</text>
<path d="M79.3,754.74h3" stroke="#858585" stroke-width="1"/>
<text transform="translate(72.50,754.74) scale(0.97,1.05)" y="4.9" text-anchor="end">0.32</text>
<path d="M79.3,726.67h3" stroke="#858585" stroke-width="1"/>
<text transform="translate(72.50,726.67) scale(0.97,1.05)" y="4.9" text-anchor="end">0.64</text>
<path d="M79.3,698.61h3" stroke="#858585" stroke-width="1"/>
<text transform="translate(72.50,698.61) scale(0.97,1.05)" y="4.9" text-anchor="end">0.96</text>
<path d="M79.3,670.54h3" stroke="#858585" stroke-width="1"/>
<text transform="translate(72.50,670.54) scale(0.97,1.05)" y="4.9" text-anchor="end">1.28</text>
<path d="M79.3,642.48h3" stroke="#858585" stroke-width="1"/>
<text transform="translate(72.50,642.48) scale(0.97,1.05)" y="4.9" text-anchor="end">1.60</text>
<path d="M93.50,792.6v-3" stroke="#858585" stroke-width="1"/>
<text transform="translate(93.50,800.50) scale(0.97,1.05)" y="4.1" text-anchor="middle">0</text>
<path d="M127.64,792.6v-3" stroke="#858585" stroke-width="1"/>
<text transform="translate(127.64,800.50) scale(0.97,1.05)" y="4.1" text-anchor="middle">10</text>
<path d="M161.78,792.6v-3" stroke="#858585" stroke-width="1"/>
<text transform="translate(161.78,800.50) scale(0.97,1.05)" y="4.1" text-anchor="middle">20</text>
<path d="M195.92,792.6v-3" stroke="#858585" stroke-width="1"/>
<text transform="translate(195.92,800.50) scale(0.97,1.05)" y="4.1" text-anchor="middle">30</text>
<path d="M230.06,792.6v-3" stroke="#858585" stroke-width="1"/>
<text transform="translate(230.06,800.50) scale(0.97,1.05)" y="4.1" text-anchor="middle">40</text>
<path d="M264.20,792.6v-3" stroke="#858585" stroke-width="1"/>
<text transform="translate(264.20,800.50) scale(0.97,1.05)" y="4.1" text-anchor="middle">50</text>
<text transform="translate(41.2,718.5) rotate(-90)" text-anchor="middle" y="4.5"><tspan class="c">解吸速率</tspan>/(cm<tspan font-size="7" dy="-4">3</tspan><tspan dy="4">·min</tspan><tspan font-size="7" dy="-4">-1</tspan><tspan dy="4">)</tspan></text>
<text transform="translate(178.80,816.30) scale(0.97,1.05)" y="4.3" text-anchor="middle"><tspan class="c">时间</tspan>/min</text>
<text transform="translate(222.70,767.30) scale(0.97,1.05)" y="4.1" text-anchor="start" font-weight="bold" style="stroke-width:0.1px">1.5 MPa</text>
<path d="M96.91,694.49L100.33,709.48L103.74,730.18L107.16,737.72L110.57,744.30L113.98,752.81L117.40,754.74L120.81,756.49L124.23,760.88L127.64,765.00L131.05,767.89L134.47,767.80L137.88,768.77L141.30,770.52L144.71,770.52L148.12,771.40L151.54,773.15L154.95,774.03L158.37,774.91L161.78,775.35L165.19,776.66L168.61,778.06L172.02,777.98L175.44,778.06L178.85,778.06L182.26,778.06L185.68,779.29L189.09,781.05L192.51,779.73L195.92,779.29L212.99,780.17L230.06,781.05L247.13,781.48L264.20,781.92" fill="none" stroke="#222" stroke-width="1.2" stroke-linejoin="round"/>
<rect x="95.11" y="692.68" width="3.61" height="3.61" fill="#111111"/>
<rect x="98.52" y="707.68" width="3.61" height="3.61" fill="#111111"/>
<rect x="101.94" y="728.38" width="3.61" height="3.61" fill="#111111"/>
<rect x="105.35" y="735.92" width="3.61" height="3.61" fill="#111111"/>
<rect x="108.76" y="742.49" width="3.61" height="3.61" fill="#111111"/>
<rect x="112.18" y="751.00" width="3.61" height="3.61" fill="#111111"/>
<rect x="115.59" y="752.93" width="3.61" height="3.61" fill="#111111"/>
<rect x="119.01" y="754.69" width="3.61" height="3.61" fill="#111111"/>
<rect x="122.42" y="759.07" width="3.61" height="3.61" fill="#111111"/>
<rect x="125.83" y="763.19" width="3.61" height="3.61" fill="#111111"/>
<rect x="129.25" y="766.09" width="3.61" height="3.61" fill="#111111"/>
<rect x="132.66" y="766.00" width="3.61" height="3.61" fill="#111111"/>
<rect x="136.08" y="766.96" width="3.61" height="3.61" fill="#111111"/>
<rect x="139.49" y="768.72" width="3.61" height="3.61" fill="#111111"/>
<rect x="142.91" y="768.72" width="3.61" height="3.61" fill="#111111"/>
<rect x="146.32" y="769.59" width="3.61" height="3.61" fill="#111111"/>
<rect x="149.73" y="771.35" width="3.61" height="3.61" fill="#111111"/>
<rect x="153.15" y="772.23" width="3.61" height="3.61" fill="#111111"/>
<rect x="156.56" y="773.10" width="3.61" height="3.61" fill="#111111"/>
<rect x="159.97" y="773.54" width="3.61" height="3.61" fill="#111111"/>
<rect x="163.39" y="774.86" width="3.61" height="3.61" fill="#111111"/>
<rect x="166.80" y="776.26" width="3.61" height="3.61" fill="#111111"/>
<rect x="170.22" y="776.17" width="3.61" height="3.61" fill="#111111"/>
<rect x="173.63" y="776.26" width="3.61" height="3.61" fill="#111111"/>
<rect x="177.05" y="776.26" width="3.61" height="3.61" fill="#111111"/>
<rect x="180.46" y="776.26" width="3.61" height="3.61" fill="#111111"/>
<rect x="183.87" y="777.49" width="3.61" height="3.61" fill="#111111"/>
<rect x="187.29" y="779.24" width="3.61" height="3.61" fill="#111111"/>
<rect x="190.70" y="777.93" width="3.61" height="3.61" fill="#111111"/>
<rect x="194.12" y="777.49" width="3.61" height="3.61" fill="#111111"/>
<rect x="211.19" y="778.36" width="3.61" height="3.61" fill="#111111"/>
<rect x="228.25" y="779.24" width="3.61" height="3.61" fill="#111111"/>
<rect x="245.32" y="779.68" width="3.61" height="3.61" fill="#111111"/>
<rect x="262.40" y="780.12" width="3.61" height="3.61" fill="#111111"/>
<path d="M96.91,648.62L100.33,689.84L103.74,706.68L107.16,724.57L110.57,734.04L113.98,742.46L117.40,747.11L120.81,753.68L124.23,756.49L127.64,760.26L131.05,763.51L134.47,765.87L137.88,767.89L141.30,769.64L144.71,770.52L148.12,771.57L151.54,773.15L154.95,774.38L158.37,774.38L161.78,774.38L165.19,775.78L168.61,777.19L172.02,777.54L175.44,777.71L178.85,777.98L182.26,777.98L185.68,778.41L189.09,779.12L192.51,779.12L195.92,779.29L212.99,780.17L230.06,781.05L247.13,781.48L264.20,781.92" fill="none" stroke="#c83a5a" stroke-width="1.2" stroke-linejoin="round"/>
<circle cx="96.91" cy="648.62" r="1.90" fill="#d41e2c"/>
<circle cx="100.33" cy="689.84" r="1.90" fill="#d41e2c"/>
<circle cx="103.74" cy="706.68" r="1.90" fill="#d41e2c"/>
<circle cx="107.16" cy="724.57" r="1.90" fill="#d41e2c"/>
<circle cx="110.57" cy="734.04" r="1.90" fill="#d41e2c"/>
<circle cx="113.98" cy="742.46" r="1.90" fill="#d41e2c"/>
<circle cx="117.40" cy="747.11" r="1.90" fill="#d41e2c"/>
<circle cx="120.81" cy="753.68" r="1.90" fill="#d41e2c"/>
<circle cx="124.23" cy="756.49" r="1.90" fill="#d41e2c"/>
<circle cx="127.64" cy="760.26" r="1.90" fill="#d41e2c"/>
<circle cx="131.05" cy="763.51" r="1.90" fill="#d41e2c"/>
<circle cx="134.47" cy="765.87" r="1.90" fill="#d41e2c"/>
<circle cx="137.88" cy="767.89" r="1.90" fill="#d41e2c"/>
<circle cx="141.30" cy="769.64" r="1.90" fill="#d41e2c"/>
<circle cx="144.71" cy="770.52" r="1.90" fill="#d41e2c"/>
<circle cx="148.12" cy="771.57" r="1.90" fill="#d41e2c"/>
<circle cx="151.54" cy="773.15" r="1.90" fill="#d41e2c"/>
<circle cx="154.95" cy="774.38" r="1.90" fill="#d41e2c"/>
<circle cx="158.37" cy="774.38" r="1.90" fill="#d41e2c"/>
<circle cx="161.78" cy="774.38" r="1.90" fill="#d41e2c"/>
<circle cx="165.19" cy="775.78" r="1.90" fill="#d41e2c"/>
<circle cx="168.61" cy="777.19" r="1.90" fill="#d41e2c"/>
<circle cx="172.02" cy="777.54" r="1.90" fill="#d41e2c"/>
<circle cx="175.44" cy="777.71" r="1.90" fill="#d41e2c"/>
<circle cx="178.85" cy="777.98" r="1.90" fill="#d41e2c"/>
<circle cx="182.26" cy="777.98" r="1.90" fill="#d41e2c"/>
<circle cx="185.68" cy="778.41" r="1.90" fill="#d41e2c"/>
<circle cx="189.09" cy="779.12" r="1.90" fill="#d41e2c"/>
<circle cx="192.51" cy="779.12" r="1.90" fill="#d41e2c"/>
<circle cx="195.92" cy="779.29" r="1.90" fill="#d41e2c"/>
<circle cx="212.99" cy="780.17" r="1.90" fill="#d41e2c"/>
<circle cx="230.06" cy="781.05" r="1.90" fill="#d41e2c"/>
<circle cx="247.13" cy="781.48" r="1.90" fill="#d41e2c"/>
<circle cx="264.20" cy="781.92" r="1.90" fill="#d41e2c"/>
<path d="M96.91,672.03L100.33,696.42L103.74,715.18L107.16,730.18L110.57,732.99L113.98,743.42L117.40,749.04L120.81,754.74L124.23,756.49L127.64,757.54L131.05,760.00L134.47,762.19L137.88,765.26L141.30,767.80L144.71,768.77L148.12,769.64L151.54,770.08L154.95,770.52L158.37,772.28L161.78,773.50L165.19,774.47L168.61,775.35L172.02,775.35L175.44,775.35L178.85,775.78L182.26,776.31L185.68,776.66L189.09,777.19L192.51,778.41L195.92,779.12L212.99,779.73L230.06,780.17L247.13,781.05L264.20,781.05" fill="none" stroke="#3a5588" stroke-width="1.2" stroke-linejoin="round"/>
<path d="M96.91,669.75L99.08,673.40L94.75,673.40Z" fill="#2a3f88"/>
<path d="M100.33,694.14L102.49,697.78L98.16,697.78Z" fill="#2a3f88"/>
<path d="M103.74,712.90L105.91,716.55L101.58,716.55Z" fill="#2a3f88"/>
<path d="M107.16,727.90L109.32,731.55L104.99,731.55Z" fill="#2a3f88"/>
<path d="M110.57,730.71L112.74,734.35L108.40,734.35Z" fill="#2a3f88"/>
<path d="M113.98,741.14L116.15,744.79L111.82,744.79Z" fill="#2a3f88"/>
<path d="M117.40,746.76L119.56,750.40L115.23,750.40Z" fill="#2a3f88"/>
<path d="M120.81,752.46L122.98,756.10L118.65,756.10Z" fill="#2a3f88"/>
<path d="M124.23,754.21L126.39,757.86L122.06,757.86Z" fill="#2a3f88"/>
<path d="M127.64,755.26L129.81,758.91L125.47,758.91Z" fill="#2a3f88"/>
<path d="M131.05,757.72L133.22,761.37L128.89,761.37Z" fill="#2a3f88"/>
<path d="M134.47,759.91L136.63,763.56L132.30,763.56Z" fill="#2a3f88"/>
<path d="M137.88,762.98L140.05,766.63L135.72,766.63Z" fill="#2a3f88"/>
<path d="M141.30,765.52L143.46,769.17L139.13,769.17Z" fill="#2a3f88"/>
<path d="M144.71,766.49L146.88,770.14L142.54,770.14Z" fill="#2a3f88"/>
<path d="M148.12,767.37L150.29,771.01L145.96,771.01Z" fill="#2a3f88"/>
<path d="M151.54,767.80L153.70,771.45L149.37,771.45Z" fill="#2a3f88"/>
<path d="M154.95,768.24L157.12,771.89L152.79,771.89Z" fill="#2a3f88"/>
<path d="M158.37,770.00L160.53,773.64L156.20,773.64Z" fill="#2a3f88"/>
<path d="M161.78,771.22L163.95,774.87L159.61,774.87Z" fill="#2a3f88"/>
<path d="M165.19,772.19L167.36,775.84L163.03,775.84Z" fill="#2a3f88"/>
<path d="M168.61,773.07L170.77,776.71L166.44,776.71Z" fill="#2a3f88"/>
<path d="M172.02,773.07L174.19,776.71L169.86,776.71Z" fill="#2a3f88"/>
<path d="M175.44,773.07L177.60,776.71L173.27,776.71Z" fill="#2a3f88"/>
<path d="M178.85,773.50L181.02,777.15L176.68,777.15Z" fill="#2a3f88"/>
<path d="M182.26,774.03L184.43,777.68L180.10,777.68Z" fill="#2a3f88"/>
<path d="M185.68,774.38L187.84,778.03L183.51,778.03Z" fill="#2a3f88"/>
<path d="M189.09,774.91L191.26,778.56L186.93,778.56Z" fill="#2a3f88"/>
<path d="M192.51,776.13L194.67,779.78L190.34,779.78Z" fill="#2a3f88"/>
<path d="M195.92,776.84L198.09,780.48L193.75,780.48Z" fill="#2a3f88"/>
<path d="M212.99,777.45L215.16,781.10L210.82,781.10Z" fill="#2a3f88"/>
<path d="M230.06,777.89L232.23,781.54L227.89,781.54Z" fill="#2a3f88"/>
<path d="M247.13,778.77L249.30,782.41L244.96,782.41Z" fill="#2a3f88"/>
<path d="M264.20,778.77L266.37,782.41L262.03,782.41Z" fill="#2a3f88"/>
<path d="M192.3,699.2H210.9" stroke="#333" stroke-width="1.2"/>
<rect x="199.89" y="697.49" width="3.42" height="3.42" fill="#111111"/>
<text transform="translate(211.90,699.20) scale(0.97,1.05)" y="5.6" text-anchor="start"><tspan class="c">未处理</tspan></text>
<path d="M192.3,715.0H210.9" stroke="#c8406a" stroke-width="1.2"/>
<circle cx="201.60" cy="715.00" r="1.80" fill="#d41e2c"/>
<text transform="translate(211.00,715.00) scale(0.97,1.05)" y="4.1" text-anchor="start">FC117</text>
<path d="M192.3,729.5H210.9" stroke="#4a6890" stroke-width="1.2"/>
<path d="M201.60,727.34L203.65,730.80L199.55,730.80Z" fill="#27449a"/>
<text transform="translate(211.90,729.50) scale(0.97,1.05)" y="4.1" text-anchor="start">FC134</text>
<path d="M351.5,642.5V792.0H537.5" fill="none" stroke="#858585" stroke-width="1.35"/>
<path d="M351.5,782.80h3" stroke="#858585" stroke-width="1"/>
<text transform="translate(345.80,782.80) scale(0.97,1.05)" y="4.9" text-anchor="end">0</text>
<path d="M351.5,754.80h3" stroke="#858585" stroke-width="1"/>
<text transform="translate(345.80,754.80) scale(0.97,1.05)" y="4.9" text-anchor="end">0.35</text>
<path d="M351.5,726.80h3" stroke="#858585" stroke-width="1"/>
<text transform="translate(345.80,726.80) scale(0.97,1.05)" y="4.9" text-anchor="end">0.75</text>
<path d="M351.5,698.80h3" stroke="#858585" stroke-width="1"/>
<text transform="translate(345.80,698.80) scale(0.97,1.05)" y="4.9" text-anchor="end">1.05</text>
<path d="M351.5,670.80h3" stroke="#858585" stroke-width="1"/>
<text transform="translate(345.80,670.80) scale(0.97,1.05)" y="4.9" text-anchor="end">1.40</text>
<path d="M351.5,642.80h3" stroke="#858585" stroke-width="1"/>
<text transform="translate(345.80,642.80) scale(0.97,1.05)" y="4.9" text-anchor="end">1.75</text>
<path d="M366.00,792.0v-3" stroke="#858585" stroke-width="1"/>
<text transform="translate(366.00,799.30) scale(0.97,1.05)" y="4.1" text-anchor="middle">0</text>
<path d="M400.22,792.0v-3" stroke="#858585" stroke-width="1"/>
<text transform="translate(400.22,799.30) scale(0.97,1.05)" y="4.1" text-anchor="middle">10</text>
<path d="M434.44,792.0v-3" stroke="#858585" stroke-width="1"/>
<text transform="translate(434.44,799.30) scale(0.97,1.05)" y="4.1" text-anchor="middle">20</text>
<path d="M468.66,792.0v-3" stroke="#858585" stroke-width="1"/>
<text transform="translate(468.66,799.30) scale(0.97,1.05)" y="4.1" text-anchor="middle">30</text>
<path d="M502.88,792.0v-3" stroke="#858585" stroke-width="1"/>
<text transform="translate(502.88,799.30) scale(0.97,1.05)" y="4.1" text-anchor="middle">40</text>
<path d="M537.10,792.0v-3" stroke="#858585" stroke-width="1"/>
<text transform="translate(537.10,799.30) scale(0.97,1.05)" y="4.1" text-anchor="middle">50</text>
<text transform="translate(315.6,718.5) rotate(-90)" text-anchor="middle" y="4.5"><tspan class="c">解吸速率</tspan>/(cm<tspan font-size="7" dy="-4">3</tspan><tspan dy="4">·min</tspan><tspan font-size="7" dy="-4">-1</tspan><tspan dy="4">)</tspan></text>
<text transform="translate(452.00,816.50) scale(0.97,1.05)" y="4.3" text-anchor="middle"><tspan class="c">时间</tspan>/min</text>
<text transform="translate(482.40,764.00) scale(0.97,1.05)" y="4.1" text-anchor="start" font-weight="bold" style="stroke-width:0.1px">2.0 MPa</text>
<path d="M369.42,674.80L372.84,706.80L376.27,720.80L379.69,732.08L383.11,742.40L386.53,750.88L389.95,750.88L393.38,760.40L396.80,758.80L400.22,765.04L403.64,765.60L407.06,766.00L410.49,771.60L413.91,767.60L417.33,769.20L420.75,770.00L424.17,772.40L427.60,775.36L431.02,775.60L434.44,776.00L437.86,776.16L441.28,776.40L444.71,777.20L448.13,777.60L451.55,778.00L454.97,778.00L458.39,778.40L461.82,779.04L465.24,780.00L468.66,781.04L485.77,781.20L502.88,781.20L519.99,782.00L537.10,782.00" fill="none" stroke="#222" stroke-width="1.2" stroke-linejoin="round"/>
<rect x="367.62" y="673.00" width="3.61" height="3.61" fill="#111111"/>
<rect x="371.04" y="705.00" width="3.61" height="3.61" fill="#111111"/>
<rect x="374.46" y="719.00" width="3.61" height="3.61" fill="#111111"/>
<rect x="377.88" y="730.27" width="3.61" height="3.61" fill="#111111"/>
<rect x="381.31" y="740.60" width="3.61" height="3.61" fill="#111111"/>
<rect x="384.73" y="749.08" width="3.61" height="3.61" fill="#111111"/>
<rect x="388.15" y="749.08" width="3.61" height="3.61" fill="#111111"/>
<rect x="391.57" y="758.60" width="3.61" height="3.61" fill="#111111"/>
<rect x="394.99" y="757.00" width="3.61" height="3.61" fill="#111111"/>
<rect x="398.42" y="763.24" width="3.61" height="3.61" fill="#111111"/>
<rect x="401.84" y="763.79" width="3.61" height="3.61" fill="#111111"/>
<rect x="405.26" y="764.20" width="3.61" height="3.61" fill="#111111"/>
<rect x="408.68" y="769.79" width="3.61" height="3.61" fill="#111111"/>
<rect x="412.10" y="765.79" width="3.61" height="3.61" fill="#111111"/>
<rect x="415.52" y="767.39" width="3.61" height="3.61" fill="#111111"/>
<rect x="418.95" y="768.20" width="3.61" height="3.61" fill="#111111"/>
<rect x="422.37" y="770.60" width="3.61" height="3.61" fill="#111111"/>
<rect x="425.79" y="773.55" width="3.61" height="3.61" fill="#111111"/>
<rect x="429.21" y="773.79" width="3.61" height="3.61" fill="#111111"/>
<rect x="432.63" y="774.20" width="3.61" height="3.61" fill="#111111"/>
<rect x="436.06" y="774.36" width="3.61" height="3.61" fill="#111111"/>
<rect x="439.48" y="774.60" width="3.61" height="3.61" fill="#111111"/>
<rect x="442.90" y="775.39" width="3.61" height="3.61" fill="#111111"/>
<rect x="446.32" y="775.79" width="3.61" height="3.61" fill="#111111"/>
<rect x="449.75" y="776.20" width="3.61" height="3.61" fill="#111111"/>
<rect x="453.17" y="776.20" width="3.61" height="3.61" fill="#111111"/>
<rect x="456.59" y="776.60" width="3.61" height="3.61" fill="#111111"/>
<rect x="460.01" y="777.24" width="3.61" height="3.61" fill="#111111"/>
<rect x="463.43" y="778.20" width="3.61" height="3.61" fill="#111111"/>
<rect x="466.86" y="779.24" width="3.61" height="3.61" fill="#111111"/>
<rect x="483.96" y="779.39" width="3.61" height="3.61" fill="#111111"/>
<rect x="501.07" y="779.39" width="3.61" height="3.61" fill="#111111"/>
<rect x="518.19" y="780.20" width="3.61" height="3.61" fill="#111111"/>
<rect x="535.30" y="780.20" width="3.61" height="3.61" fill="#111111"/>
<path d="M369.42,644.40L372.84,644.40L376.27,732.08L379.69,721.20L383.11,734.80L386.53,748.08L389.95,742.00L393.38,754.80L396.80,750.80L400.22,760.40L403.64,761.20L407.06,762.00L410.49,763.60L413.91,764.96L417.33,766.80L420.75,764.96L424.17,769.20L427.60,779.04L431.02,777.20L434.44,776.32L437.86,776.32L441.28,776.32L444.71,778.00L448.13,779.04L451.55,772.48L454.97,777.20L458.39,777.60L461.82,778.00L465.24,779.20L468.66,780.00L485.77,780.40L502.88,779.60L519.99,782.00L537.10,782.00" fill="none" stroke="#c83a5a" stroke-width="1.2" stroke-linejoin="round"/>
<circle cx="369.42" cy="644.40" r="1.90" fill="#d41e2c"/>
<circle cx="372.84" cy="644.40" r="1.90" fill="#d41e2c"/>
<circle cx="376.27" cy="732.08" r="1.90" fill="#d41e2c"/>
<circle cx="379.69" cy="721.20" r="1.90" fill="#d41e2c"/>
<circle cx="383.11" cy="734.80" r="1.90" fill="#d41e2c"/>
<circle cx="386.53" cy="748.08" r="1.90" fill="#d41e2c"/>
<circle cx="389.95" cy="742.00" r="1.90" fill="#d41e2c"/>
<circle cx="393.38" cy="754.80" r="1.90" fill="#d41e2c"/>
<circle cx="396.80" cy="750.80" r="1.90" fill="#d41e2c"/>
<circle cx="400.22" cy="760.40" r="1.90" fill="#d41e2c"/>
<circle cx="403.64" cy="761.20" r="1.90" fill="#d41e2c"/>
<circle cx="407.06" cy="762.00" r="1.90" fill="#d41e2c"/>
<circle cx="410.49" cy="763.60" r="1.90" fill="#d41e2c"/>
<circle cx="413.91" cy="764.96" r="1.90" fill="#d41e2c"/>
<circle cx="417.33" cy="766.80" r="1.90" fill="#d41e2c"/>
<circle cx="420.75" cy="764.96" r="1.90" fill="#d41e2c"/>
<circle cx="424.17" cy="769.20" r="1.90" fill="#d41e2c"/>
<circle cx="427.60" cy="779.04" r="1.90" fill="#d41e2c"/>
<circle cx="431.02" cy="777.20" r="1.90" fill="#d41e2c"/>
<circle cx="434.44" cy="776.32" r="1.90" fill="#d41e2c"/>
<circle cx="437.86" cy="776.32" r="1.90" fill="#d41e2c"/>
<circle cx="441.28" cy="776.32" r="1.90" fill="#d41e2c"/>
<circle cx="444.71" cy="778.00" r="1.90" fill="#d41e2c"/>
<circle cx="448.13" cy="779.04" r="1.90" fill="#d41e2c"/>
<circle cx="451.55" cy="772.48" r="1.90" fill="#d41e2c"/>
<circle cx="454.97" cy="777.20" r="1.90" fill="#d41e2c"/>
<circle cx="458.39" cy="777.60" r="1.90" fill="#d41e2c"/>
<circle cx="461.82" cy="778.00" r="1.90" fill="#d41e2c"/>
<circle cx="465.24" cy="779.20" r="1.90" fill="#d41e2c"/>
<circle cx="468.66" cy="780.00" r="1.90" fill="#d41e2c"/>
<circle cx="485.77" cy="780.40" r="1.90" fill="#d41e2c"/>
<circle cx="502.88" cy="779.60" r="1.90" fill="#d41e2c"/>
<circle cx="519.99" cy="782.00" r="1.90" fill="#d41e2c"/>
<circle cx="537.10" cy="782.00" r="1.90" fill="#d41e2c"/>
<path d="M369.42,670.00L372.84,700.40L376.27,718.00L379.69,726.80L383.11,738.00L386.53,745.20L389.95,750.80L393.38,756.40L396.80,757.20L400.22,760.40L403.64,761.20L407.06,762.00L410.49,764.00L413.91,766.00L417.33,767.60L420.75,769.68L424.17,771.20L427.60,772.56L431.02,773.60L434.44,774.40L437.86,774.80L441.28,775.36L444.71,776.00L448.13,776.32L451.55,776.80L454.97,777.20L458.39,777.60L461.82,778.00L465.24,778.40L468.66,779.04L485.77,780.40L502.88,781.20L519.99,781.60L537.10,782.00" fill="none" stroke="#3a5588" stroke-width="1.2" stroke-linejoin="round"/>
<path d="M369.42,667.72L371.59,671.37L367.26,671.37Z" fill="#2a3f88"/>
<path d="M372.84,698.12L375.01,701.77L370.68,701.77Z" fill="#2a3f88"/>
<path d="M376.27,715.72L378.43,719.37L374.10,719.37Z" fill="#2a3f88"/>
<path d="M379.69,724.52L381.85,728.17L377.52,728.17Z" fill="#2a3f88"/>
<path d="M383.11,735.72L385.28,739.37L380.94,739.37Z" fill="#2a3f88"/>
<path d="M386.53,742.92L388.70,746.57L384.37,746.57Z" fill="#2a3f88"/>
<path d="M389.95,748.52L392.12,752.17L387.79,752.17Z" fill="#2a3f88"/>
<path d="M393.38,754.12L395.54,757.77L391.21,757.77Z" fill="#2a3f88"/>
<path d="M396.80,754.92L398.96,758.57L394.63,758.57Z" fill="#2a3f88"/>
<path d="M400.22,758.12L402.39,761.77L398.05,761.77Z" fill="#2a3f88"/>
<path d="M403.64,758.92L405.81,762.57L401.48,762.57Z" fill="#2a3f88"/>
<path d="M407.06,759.72L409.23,763.37L404.90,763.37Z" fill="#2a3f88"/>
<path d="M410.49,761.72L412.65,765.37L408.32,765.37Z" fill="#2a3f88"/>
<path d="M413.91,763.72L416.07,767.37L411.74,767.37Z" fill="#2a3f88"/>
<path d="M417.33,765.32L419.50,768.97L415.16,768.97Z" fill="#2a3f88"/>
<path d="M420.75,767.40L422.92,771.05L418.59,771.05Z" fill="#2a3f88"/>
<path d="M424.17,768.92L426.34,772.57L422.01,772.57Z" fill="#2a3f88"/>
<path d="M427.60,770.28L429.76,773.93L425.43,773.93Z" fill="#2a3f88"/>
<path d="M431.02,771.32L433.18,774.97L428.85,774.97Z" fill="#2a3f88"/>
<path d="M434.44,772.12L436.61,775.77L432.27,775.77Z" fill="#2a3f88"/>
<path d="M437.86,772.52L440.03,776.17L435.70,776.17Z" fill="#2a3f88"/>
<path d="M441.28,773.08L443.45,776.73L439.12,776.73Z" fill="#2a3f88"/>
<path d="M444.71,773.72L446.87,777.37L442.54,777.37Z" fill="#2a3f88"/>
<path d="M448.13,774.04L450.29,777.69L445.96,777.69Z" fill="#2a3f88"/>
<path d="M451.55,774.52L453.72,778.17L449.38,778.17Z" fill="#2a3f88"/>
<path d="M454.97,774.92L457.14,778.57L452.81,778.57Z" fill="#2a3f88"/>
<path d="M458.39,775.32L460.56,778.97L456.23,778.97Z" fill="#2a3f88"/>
<path d="M461.82,775.72L463.98,779.37L459.65,779.37Z" fill="#2a3f88"/>
<path d="M465.24,776.12L467.40,779.77L463.07,779.77Z" fill="#2a3f88"/>
<path d="M468.66,776.76L470.83,780.41L466.49,780.41Z" fill="#2a3f88"/>
<path d="M485.77,778.12L487.94,781.77L483.60,781.77Z" fill="#2a3f88"/>
<path d="M502.88,778.92L505.05,782.57L500.71,782.57Z" fill="#2a3f88"/>
<path d="M519.99,779.32L522.16,782.97L517.82,782.97Z" fill="#2a3f88"/>
<path d="M537.10,779.72L539.27,783.37L534.93,783.37Z" fill="#2a3f88"/>
<path d="M455.4,700.2H472.3" stroke="#333" stroke-width="1.2"/>
<rect x="462.14" y="698.49" width="3.42" height="3.42" fill="#111111"/>
<text transform="translate(474.00,700.20) scale(0.97,1.05)" y="5.6" text-anchor="start"><tspan class="c">未处理</tspan></text>
<path d="M455.4,715.0H472.3" stroke="#c8406a" stroke-width="1.2"/>
<circle cx="463.85" cy="715.00" r="1.80" fill="#d41e2c"/>
<text transform="translate(473.50,715.00) scale(0.97,1.05)" y="4.1" text-anchor="start">FC117</text>
<path d="M455.4,730.5H472.3" stroke="#4a6890" stroke-width="1.2"/>
<path d="M463.85,728.34L465.90,731.80L461.80,731.80Z" fill="#27449a"/>
<text transform="translate(474.00,730.50) scale(0.97,1.05)" y="4.1" text-anchor="start">FC134</text>
<path d="M618.6,643.0V792.7H805.0" fill="none" stroke="#858585" stroke-width="1.35"/>
<path d="M618.6,785.50h3" stroke="#858585" stroke-width="1"/>
<text transform="translate(612.00,785.50) scale(0.97,1.05)" y="4.9" text-anchor="end">0</text>
<path d="M618.6,757.00h3" stroke="#858585" stroke-width="1"/>
<text transform="translate(612.00,757.00) scale(0.97,1.05)" y="4.9" text-anchor="end">0.4</text>
<path d="M618.6,728.50h3" stroke="#858585" stroke-width="1"/>
<text transform="translate(612.00,728.50) scale(0.97,1.05)" y="4.9" text-anchor="end">0.8</text>
<path d="M618.6,700.00h3" stroke="#858585" stroke-width="1"/>
<text transform="translate(612.00,700.00) scale(0.97,1.05)" y="4.9" text-anchor="end">1.2</text>
<path d="M618.6,671.50h3" stroke="#858585" stroke-width="1"/>
<text transform="translate(612.00,671.50) scale(0.97,1.05)" y="4.9" text-anchor="end">1.6</text>
<path d="M618.6,643.00h3" stroke="#858585" stroke-width="1"/>
<text transform="translate(612.00,643.00) scale(0.97,1.05)" y="4.9" text-anchor="end">2.0</text>
<path d="M635.50,792.7v-3" stroke="#858585" stroke-width="1"/>
<text transform="translate(635.50,798.10) scale(0.97,1.05)" y="4.1" text-anchor="middle">0</text>
<path d="M669.32,792.7v-3" stroke="#858585" stroke-width="1"/>
<text transform="translate(669.32,798.10) scale(0.97,1.05)" y="4.1" text-anchor="middle">10</text>
<path d="M703.14,792.7v-3" stroke="#858585" stroke-width="1"/>
<text transform="translate(703.14,798.10) scale(0.97,1.05)" y="4.1" text-anchor="middle">20</text>
<path d="M736.96,792.7v-3" stroke="#858585" stroke-width="1"/>
<text transform="translate(736.96,798.10) scale(0.97,1.05)" y="4.1" text-anchor="middle">30</text>
<path d="M770.78,792.7v-3" stroke="#858585" stroke-width="1"/>
<text transform="translate(770.78,798.10) scale(0.97,1.05)" y="4.1" text-anchor="middle">40</text>
<path d="M804.60,792.7v-3" stroke="#858585" stroke-width="1"/>
<text transform="translate(804.60,798.10) scale(0.97,1.05)" y="4.1" text-anchor="middle">50</text>
<text transform="translate(585.2,718.5) rotate(-90)" text-anchor="middle" y="4.5"><tspan class="c">解吸速率</tspan>/(cm<tspan font-size="7" dy="-4">3</tspan><tspan dy="4">·min</tspan><tspan font-size="7" dy="-4">-1</tspan><tspan dy="4">)</tspan></text>
<text transform="translate(718.70,815.70) scale(0.97,1.05)" y="4.3" text-anchor="middle"><tspan class="c">时间</tspan>/min</text>
<text transform="translate(755.80,762.40) scale(0.97,1.05)" y="4.1" text-anchor="start" font-weight="bold" style="stroke-width:0.1px">2.5 MPa</text>
<path d="M638.88,682.90L642.26,712.40L645.65,730.21L649.03,740.61L652.41,748.09L655.79,752.73L659.17,756.50L662.56,763.06L665.94,764.12L669.32,765.91L672.70,769.83L676.08,772.53L679.47,772.67L682.85,772.53L686.23,773.39L689.61,774.38L692.99,775.52L696.38,776.24L699.76,777.31L703.14,778.38L706.52,778.73L709.90,779.09L713.29,779.80L716.67,780.16L720.05,779.94L723.43,779.80L726.81,779.94L730.20,780.16L733.58,780.87L736.96,781.23L753.87,781.94L770.78,782.65L787.69,783.36L804.60,783.36" fill="none" stroke="#222" stroke-width="1.2" stroke-linejoin="round"/>
<rect x="637.08" y="681.10" width="3.61" height="3.61" fill="#111111"/>
<rect x="640.46" y="710.59" width="3.61" height="3.61" fill="#111111"/>
<rect x="643.84" y="728.41" width="3.61" height="3.61" fill="#111111"/>
<rect x="647.22" y="738.81" width="3.61" height="3.61" fill="#111111"/>
<rect x="650.61" y="746.29" width="3.61" height="3.61" fill="#111111"/>
<rect x="653.99" y="750.92" width="3.61" height="3.61" fill="#111111"/>
<rect x="657.37" y="754.70" width="3.61" height="3.61" fill="#111111"/>
<rect x="660.75" y="761.25" width="3.61" height="3.61" fill="#111111"/>
<rect x="664.13" y="762.32" width="3.61" height="3.61" fill="#111111"/>
<rect x="667.52" y="764.10" width="3.61" height="3.61" fill="#111111"/>
<rect x="670.90" y="768.02" width="3.61" height="3.61" fill="#111111"/>
<rect x="674.28" y="770.73" width="3.61" height="3.61" fill="#111111"/>
<rect x="677.66" y="770.87" width="3.61" height="3.61" fill="#111111"/>
<rect x="681.04" y="770.73" width="3.61" height="3.61" fill="#111111"/>
<rect x="684.43" y="771.58" width="3.61" height="3.61" fill="#111111"/>
<rect x="687.81" y="772.58" width="3.61" height="3.61" fill="#111111"/>
<rect x="691.19" y="773.72" width="3.61" height="3.61" fill="#111111"/>
<rect x="694.57" y="774.43" width="3.61" height="3.61" fill="#111111"/>
<rect x="697.95" y="775.50" width="3.61" height="3.61" fill="#111111"/>
<rect x="701.34" y="776.57" width="3.61" height="3.61" fill="#111111"/>
<rect x="704.72" y="776.93" width="3.61" height="3.61" fill="#111111"/>
<rect x="708.10" y="777.28" width="3.61" height="3.61" fill="#111111"/>
<rect x="711.48" y="778.00" width="3.61" height="3.61" fill="#111111"/>
<rect x="714.86" y="778.35" width="3.61" height="3.61" fill="#111111"/>
<rect x="718.25" y="778.14" width="3.61" height="3.61" fill="#111111"/>
<rect x="721.63" y="778.00" width="3.61" height="3.61" fill="#111111"/>
<rect x="725.01" y="778.14" width="3.61" height="3.61" fill="#111111"/>
<rect x="728.39" y="778.35" width="3.61" height="3.61" fill="#111111"/>
<rect x="731.77" y="779.06" width="3.61" height="3.61" fill="#111111"/>
<rect x="735.16" y="779.42" width="3.61" height="3.61" fill="#111111"/>
<rect x="752.07" y="780.13" width="3.61" height="3.61" fill="#111111"/>
<rect x="768.98" y="780.85" width="3.61" height="3.61" fill="#111111"/>
<rect x="785.89" y="781.56" width="3.61" height="3.61" fill="#111111"/>
<rect x="802.80" y="781.56" width="3.61" height="3.61" fill="#111111"/>
<path d="M638.88,650.12L642.26,690.74L645.65,711.40L649.03,727.43L652.41,738.69L655.79,742.39L659.17,749.02L662.56,753.72L665.94,757.71L669.32,761.20L672.70,764.12L676.08,765.91L679.47,767.69L682.85,769.68L686.23,770.18L689.61,770.54L692.99,771.61L696.38,772.53L699.76,772.82L703.14,773.03L706.52,773.74L709.90,774.38L713.29,774.81L716.67,775.17L720.05,776.24L723.43,776.95L726.81,778.02L730.20,778.73L733.58,779.80L736.96,780.87L753.87,781.94L770.78,782.65L787.69,783.36L804.60,783.36" fill="none" stroke="#c83a5a" stroke-width="1.2" stroke-linejoin="round"/>
<circle cx="638.88" cy="650.12" r="1.90" fill="#d41e2c"/>
<circle cx="642.26" cy="690.74" r="1.90" fill="#d41e2c"/>
<circle cx="645.65" cy="711.40" r="1.90" fill="#d41e2c"/>
<circle cx="649.03" cy="727.43" r="1.90" fill="#d41e2c"/>
<circle cx="652.41" cy="738.69" r="1.90" fill="#d41e2c"/>
<circle cx="655.79" cy="742.39" r="1.90" fill="#d41e2c"/>
<circle cx="659.17" cy="749.02" r="1.90" fill="#d41e2c"/>
<circle cx="662.56" cy="753.72" r="1.90" fill="#d41e2c"/>
<circle cx="665.94" cy="757.71" r="1.90" fill="#d41e2c"/>
<circle cx="669.32" cy="761.20" r="1.90" fill="#d41e2c"/>
<circle cx="672.70" cy="764.12" r="1.90" fill="#d41e2c"/>
<circle cx="676.08" cy="765.91" r="1.90" fill="#d41e2c"/>
<circle cx="679.47" cy="767.69" r="1.90" fill="#d41e2c"/>
<circle cx="682.85" cy="769.68" r="1.90" fill="#d41e2c"/>
<circle cx="686.23" cy="770.18" r="1.90" fill="#d41e2c"/>
<circle cx="689.61" cy="770.54" r="1.90" fill="#d41e2c"/>
<circle cx="692.99" cy="771.61" r="1.90" fill="#d41e2c"/>
<circle cx="696.38" cy="772.53" r="1.90" fill="#d41e2c"/>
<circle cx="699.76" cy="772.82" r="1.90" fill="#d41e2c"/>
<circle cx="703.14" cy="773.03" r="1.90" fill="#d41e2c"/>
<circle cx="706.52" cy="773.74" r="1.90" fill="#d41e2c"/>
<circle cx="709.90" cy="774.38" r="1.90" fill="#d41e2c"/>
<circle cx="713.29" cy="774.81" r="1.90" fill="#d41e2c"/>
<circle cx="716.67" cy="775.17" r="1.90" fill="#d41e2c"/>
<circle cx="720.05" cy="776.24" r="1.90" fill="#d41e2c"/>
<circle cx="723.43" cy="776.95" r="1.90" fill="#d41e2c"/>
<circle cx="726.81" cy="778.02" r="1.90" fill="#d41e2c"/>
<circle cx="730.20" cy="778.73" r="1.90" fill="#d41e2c"/>
<circle cx="733.58" cy="779.80" r="1.90" fill="#d41e2c"/>
<circle cx="736.96" cy="780.87" r="1.90" fill="#d41e2c"/>
<circle cx="753.87" cy="781.94" r="1.90" fill="#d41e2c"/>
<circle cx="770.78" cy="782.65" r="1.90" fill="#d41e2c"/>
<circle cx="787.69" cy="783.36" r="1.90" fill="#d41e2c"/>
<circle cx="804.60" cy="783.36" r="1.90" fill="#d41e2c"/>
<path d="M638.88,686.11L642.26,713.32L645.65,723.65L649.03,735.91L652.41,745.32L655.79,749.88L659.17,754.72L662.56,757.71L665.94,759.14L669.32,761.20L672.70,764.84L676.08,767.83L679.47,769.11L682.85,770.54L686.23,771.61L689.61,772.53L692.99,773.39L696.38,774.38L699.76,775.52L703.14,776.24L706.52,776.95L709.90,777.66L713.29,778.02L716.67,778.38L720.05,778.38L723.43,778.38L726.81,779.09L730.20,779.80L733.58,780.51L736.96,781.23L753.87,781.94L770.78,782.65L787.69,783.36L804.60,783.36" fill="none" stroke="#3a5588" stroke-width="1.2" stroke-linejoin="round"/>
<path d="M638.88,683.83L641.05,687.47L636.72,687.47Z" fill="#2a3f88"/>
<path d="M642.26,711.04L644.43,714.69L640.10,714.69Z" fill="#2a3f88"/>
<path d="M645.65,721.38L647.81,725.02L643.48,725.02Z" fill="#2a3f88"/>
<path d="M649.03,733.63L651.19,737.28L646.86,737.28Z" fill="#2a3f88"/>
<path d="M652.41,743.04L654.58,746.68L650.24,746.68Z" fill="#2a3f88"/>
<path d="M655.79,747.60L657.96,751.24L653.63,751.24Z" fill="#2a3f88"/>
<path d="M659.17,752.44L661.34,756.09L657.01,756.09Z" fill="#2a3f88"/>
<path d="M662.56,755.43L664.72,759.08L660.39,759.08Z" fill="#2a3f88"/>
<path d="M665.94,756.86L668.10,760.51L663.77,760.51Z" fill="#2a3f88"/>
<path d="M669.32,758.92L671.49,762.57L667.15,762.57Z" fill="#2a3f88"/>
<path d="M672.70,762.56L674.87,766.21L670.54,766.21Z" fill="#2a3f88"/>
<path d="M676.08,765.55L678.25,769.20L673.92,769.20Z" fill="#2a3f88"/>
<path d="M679.47,766.83L681.63,770.48L677.30,770.48Z" fill="#2a3f88"/>
<path d="M682.85,768.26L685.01,771.91L680.68,771.91Z" fill="#2a3f88"/>
<path d="M686.23,769.33L688.40,772.97L684.06,772.97Z" fill="#2a3f88"/>
<path d="M689.61,770.25L691.78,773.90L687.45,773.90Z" fill="#2a3f88"/>
<path d="M692.99,771.11L695.16,774.76L690.83,774.76Z" fill="#2a3f88"/>
<path d="M696.38,772.11L698.54,775.75L694.21,775.75Z" fill="#2a3f88"/>
<path d="M699.76,773.25L701.92,776.89L697.59,776.89Z" fill="#2a3f88"/>
<path d="M703.14,773.96L705.31,777.61L700.97,777.61Z" fill="#2a3f88"/>
<path d="M706.52,774.67L708.69,778.32L704.36,778.32Z" fill="#2a3f88"/>
<path d="M709.90,775.38L712.07,779.03L707.74,779.03Z" fill="#2a3f88"/>
<path d="M713.29,775.74L715.45,779.39L711.12,779.39Z" fill="#2a3f88"/>
<path d="M716.67,776.10L718.83,779.74L714.50,779.74Z" fill="#2a3f88"/>
<path d="M720.05,776.10L722.22,779.74L717.88,779.74Z" fill="#2a3f88"/>
<path d="M723.43,776.10L725.60,779.74L721.27,779.74Z" fill="#2a3f88"/>
<path d="M726.81,776.81L728.98,780.46L724.65,780.46Z" fill="#2a3f88"/>
<path d="M730.20,777.52L732.36,781.17L728.03,781.17Z" fill="#2a3f88"/>
<path d="M733.58,778.23L735.74,781.88L731.41,781.88Z" fill="#2a3f88"/>
<path d="M736.96,778.95L739.13,782.59L734.79,782.59Z" fill="#2a3f88"/>
<path d="M753.87,779.66L756.04,783.31L751.70,783.31Z" fill="#2a3f88"/>
<path d="M770.78,780.37L772.95,784.02L768.61,784.02Z" fill="#2a3f88"/>
<path d="M787.69,781.08L789.86,784.73L785.52,784.73Z" fill="#2a3f88"/>
<path d="M804.60,781.08L806.77,784.73L802.43,784.73Z" fill="#2a3f88"/>
<path d="M724.3,699.0H740.5" stroke="#333" stroke-width="1.2"/>
<rect x="730.69" y="697.29" width="3.42" height="3.42" fill="#111111"/>
<text transform="translate(743.80,699.00) scale(0.97,1.05)" y="5.6" text-anchor="start"><tspan class="c">未处理</tspan></text>
<path d="M724.3,714.0H740.5" stroke="#c8406a" stroke-width="1.2"/>
<circle cx="732.40" cy="714.00" r="1.80" fill="#d41e2c"/>
<text transform="translate(743.00,714.00) scale(0.97,1.05)" y="4.1" text-anchor="start">FC117</text>
<path d="M724.3,729.2H740.5" stroke="#4a6890" stroke-width="1.2"/>
<path d="M732.40,727.04L734.45,730.50L730.35,730.50Z" fill="#27449a"/>
<text transform="translate(743.80,729.20) scale(0.97,1.05)" y="4.1" text-anchor="start">FC134</text>
<text x="404" y="420">(a) <tspan class="c" style="font-size:13px;fill:#444">解吸量</tspan></text>
<text x="405.5" y="844">(b) <tspan class="c" style="font-size:13px;fill:#444">解吸速率</tspan></text>
</g></svg></body></html>
